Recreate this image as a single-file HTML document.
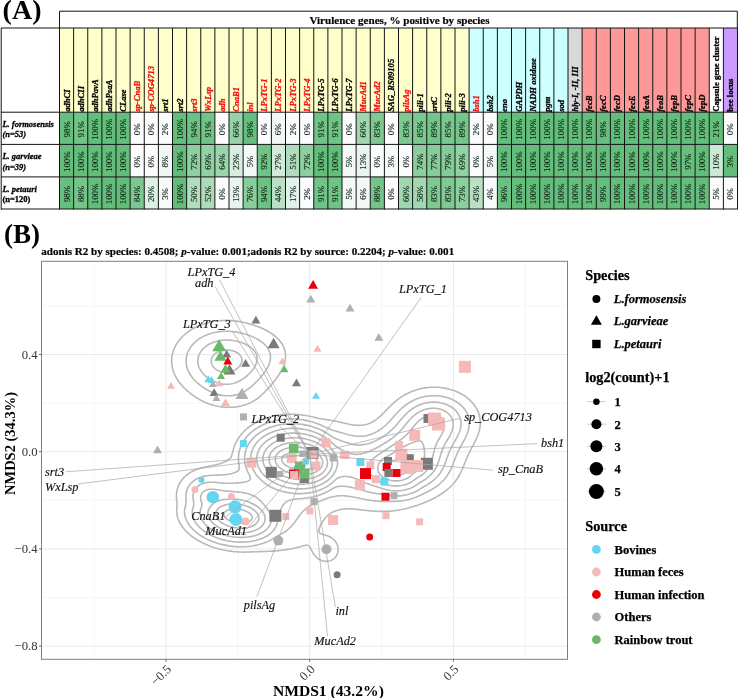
<!DOCTYPE html><html><head><meta charset="utf-8"><style>html,body{margin:0;padding:0;background:#fff;}body{width:738px;height:698px;overflow:hidden;}svg{display:block;will-change:transform;}</style></head><body><svg width="738" height="698" viewBox="0 0 738 698" font-family="Liberation Serif"><text x="2.6" y="18.7" font-size="28" font-weight="bold">(A)</text>
<rect x="59.50" y="28.00" width="14.43" height="84.00" fill="#FFFFCC"/>
<rect x="59.50" y="112.20" width="14.43" height="32.20" fill="#66BF7E"/>
<rect x="59.50" y="144.40" width="14.43" height="32.50" fill="#63BE7B"/>
<rect x="59.50" y="176.90" width="14.43" height="32.10" fill="#66BF7E"/>
<rect x="73.62" y="28.00" width="14.43" height="84.00" fill="#FFFFCC"/>
<rect x="73.62" y="112.20" width="14.43" height="32.20" fill="#71C487"/>
<rect x="73.62" y="144.40" width="14.43" height="32.50" fill="#63BE7B"/>
<rect x="73.62" y="176.90" width="14.43" height="32.10" fill="#75C58B"/>
<rect x="87.75" y="28.00" width="14.43" height="84.00" fill="#FFFFCC"/>
<rect x="87.75" y="112.20" width="14.43" height="32.20" fill="#63BE7B"/>
<rect x="87.75" y="144.40" width="14.43" height="32.50" fill="#63BE7B"/>
<rect x="87.75" y="176.90" width="14.43" height="32.10" fill="#63BE7B"/>
<rect x="101.88" y="28.00" width="14.43" height="84.00" fill="#FFFFCC"/>
<rect x="101.88" y="112.20" width="14.43" height="32.20" fill="#63BE7B"/>
<rect x="101.88" y="144.40" width="14.43" height="32.50" fill="#63BE7B"/>
<rect x="101.88" y="176.90" width="14.43" height="32.10" fill="#63BE7B"/>
<rect x="116.00" y="28.00" width="14.43" height="84.00" fill="#FFFFCC"/>
<rect x="116.00" y="112.20" width="14.43" height="32.20" fill="#63BE7B"/>
<rect x="116.00" y="144.40" width="14.43" height="32.50" fill="#63BE7B"/>
<rect x="116.00" y="176.90" width="14.43" height="32.10" fill="#63BE7B"/>
<rect x="130.12" y="28.00" width="14.43" height="84.00" fill="#FFFFCC"/>
<rect x="130.12" y="112.20" width="14.43" height="32.20" fill="#FCFCFF"/>
<rect x="130.12" y="144.40" width="14.43" height="32.50" fill="#FCFCFF"/>
<rect x="130.12" y="176.90" width="14.43" height="32.10" fill="#7BC890"/>
<rect x="144.25" y="28.00" width="14.43" height="84.00" fill="#FFFFCC"/>
<rect x="144.25" y="112.20" width="14.43" height="32.20" fill="#FCFCFF"/>
<rect x="144.25" y="144.40" width="14.43" height="32.50" fill="#FCFCFF"/>
<rect x="144.25" y="176.90" width="14.43" height="32.10" fill="#DDF0E5"/>
<rect x="158.38" y="28.00" width="14.43" height="84.00" fill="#FFFFCC"/>
<rect x="158.38" y="112.20" width="14.43" height="32.20" fill="#F9FBFC"/>
<rect x="158.38" y="144.40" width="14.43" height="32.50" fill="#F0F7F4"/>
<rect x="158.38" y="176.90" width="14.43" height="32.10" fill="#F7FAFB"/>
<rect x="172.50" y="28.00" width="14.43" height="84.00" fill="#FFFFCC"/>
<rect x="172.50" y="112.20" width="14.43" height="32.20" fill="#63BE7B"/>
<rect x="172.50" y="144.40" width="14.43" height="32.50" fill="#63BE7B"/>
<rect x="172.50" y="176.90" width="14.43" height="32.10" fill="#63BE7B"/>
<rect x="186.62" y="28.00" width="14.43" height="84.00" fill="#FFFFCC"/>
<rect x="186.62" y="112.20" width="14.43" height="32.20" fill="#6CC283"/>
<rect x="186.62" y="144.40" width="14.43" height="32.50" fill="#8ECFA0"/>
<rect x="186.62" y="176.90" width="14.43" height="32.10" fill="#B0DDBD"/>
<rect x="200.75" y="28.00" width="14.43" height="84.00" fill="#FFFFCC"/>
<rect x="200.75" y="112.20" width="14.43" height="32.20" fill="#71C487"/>
<rect x="200.75" y="144.40" width="14.43" height="32.50" fill="#92D1A4"/>
<rect x="200.75" y="176.90" width="14.43" height="32.10" fill="#ACDCBA"/>
<rect x="214.88" y="28.00" width="14.43" height="84.00" fill="#FFFFCC"/>
<rect x="214.88" y="112.20" width="14.43" height="32.20" fill="#FCFCFF"/>
<rect x="214.88" y="144.40" width="14.43" height="32.50" fill="#9AD4AB"/>
<rect x="214.88" y="176.90" width="14.43" height="32.10" fill="#FCFCFF"/>
<rect x="229.00" y="28.00" width="14.43" height="84.00" fill="#FFFFCC"/>
<rect x="229.00" y="112.20" width="14.43" height="32.20" fill="#97D3A8"/>
<rect x="229.00" y="144.40" width="14.43" height="32.50" fill="#D9EEE1"/>
<rect x="229.00" y="176.90" width="14.43" height="32.10" fill="#E8F4EE"/>
<rect x="243.12" y="28.00" width="14.43" height="84.00" fill="#FFFFCC"/>
<rect x="243.12" y="112.20" width="14.43" height="32.20" fill="#66BF7E"/>
<rect x="243.12" y="144.40" width="14.43" height="32.50" fill="#F4F9F8"/>
<rect x="243.12" y="176.90" width="14.43" height="32.10" fill="#88CD9B"/>
<rect x="257.25" y="28.00" width="14.43" height="84.00" fill="#FFFFCC"/>
<rect x="257.25" y="112.20" width="14.43" height="32.20" fill="#FCFCFF"/>
<rect x="257.25" y="144.40" width="14.43" height="32.50" fill="#6FC386"/>
<rect x="257.25" y="176.90" width="14.43" height="32.10" fill="#6CC283"/>
<rect x="271.38" y="28.00" width="14.43" height="84.00" fill="#FFFFCC"/>
<rect x="271.38" y="112.20" width="14.43" height="32.20" fill="#F3F8F7"/>
<rect x="271.38" y="144.40" width="14.43" height="32.50" fill="#D3EBDB"/>
<rect x="271.38" y="176.90" width="14.43" height="32.10" fill="#B9E1C5"/>
<rect x="285.50" y="28.00" width="14.43" height="84.00" fill="#FFFFCC"/>
<rect x="285.50" y="112.20" width="14.43" height="32.20" fill="#F9FBFC"/>
<rect x="285.50" y="144.40" width="14.43" height="32.50" fill="#AEDCBC"/>
<rect x="285.50" y="176.90" width="14.43" height="32.10" fill="#E2F1E9"/>
<rect x="299.62" y="28.00" width="14.43" height="84.00" fill="#FFFFCC"/>
<rect x="299.62" y="112.20" width="14.43" height="32.20" fill="#FCFCFF"/>
<rect x="299.62" y="144.40" width="14.43" height="32.50" fill="#8ECFA0"/>
<rect x="299.62" y="176.90" width="14.43" height="32.10" fill="#F9FBFC"/>
<rect x="313.75" y="28.00" width="14.43" height="84.00" fill="#FFFFCC"/>
<rect x="313.75" y="112.20" width="14.43" height="32.20" fill="#71C487"/>
<rect x="313.75" y="144.40" width="14.43" height="32.50" fill="#63BE7B"/>
<rect x="313.75" y="176.90" width="14.43" height="32.10" fill="#71C487"/>
<rect x="327.88" y="28.00" width="14.43" height="84.00" fill="#FFFFCC"/>
<rect x="327.88" y="112.20" width="14.43" height="32.20" fill="#71C487"/>
<rect x="327.88" y="144.40" width="14.43" height="32.50" fill="#63BE7B"/>
<rect x="327.88" y="176.90" width="14.43" height="32.10" fill="#71C487"/>
<rect x="342.00" y="28.00" width="14.43" height="84.00" fill="#FFFFCC"/>
<rect x="342.00" y="112.20" width="14.43" height="32.20" fill="#FCFCFF"/>
<rect x="342.00" y="144.40" width="14.43" height="32.50" fill="#F4F9F8"/>
<rect x="342.00" y="176.90" width="14.43" height="32.10" fill="#F4F9F8"/>
<rect x="356.12" y="28.00" width="14.43" height="84.00" fill="#FFFFCC"/>
<rect x="356.12" y="112.20" width="14.43" height="32.20" fill="#A0D7B0"/>
<rect x="356.12" y="144.40" width="14.43" height="32.50" fill="#E8F4EE"/>
<rect x="356.12" y="176.90" width="14.43" height="32.10" fill="#F3F8F7"/>
<rect x="370.25" y="28.00" width="14.43" height="84.00" fill="#FFFFCC"/>
<rect x="370.25" y="112.20" width="14.43" height="32.20" fill="#7DC991"/>
<rect x="370.25" y="144.40" width="14.43" height="32.50" fill="#FCFCFF"/>
<rect x="370.25" y="176.90" width="14.43" height="32.10" fill="#75C58B"/>
<rect x="384.38" y="28.00" width="14.43" height="84.00" fill="#FFFFCC"/>
<rect x="384.38" y="112.20" width="14.43" height="32.20" fill="#FCFCFF"/>
<rect x="384.38" y="144.40" width="14.43" height="32.50" fill="#F7FAFB"/>
<rect x="384.38" y="176.90" width="14.43" height="32.10" fill="#FCFCFF"/>
<rect x="398.50" y="28.00" width="14.43" height="84.00" fill="#FFFFCC"/>
<rect x="398.50" y="112.20" width="14.43" height="32.20" fill="#7DC991"/>
<rect x="398.50" y="144.40" width="14.43" height="32.50" fill="#FCFCFF"/>
<rect x="398.50" y="176.90" width="14.43" height="32.10" fill="#A0D7B0"/>
<rect x="412.62" y="28.00" width="14.43" height="84.00" fill="#FFFFCC"/>
<rect x="412.62" y="112.20" width="14.43" height="32.20" fill="#7AC78F"/>
<rect x="412.62" y="144.40" width="14.43" height="32.50" fill="#8BCE9D"/>
<rect x="412.62" y="176.90" width="14.43" height="32.10" fill="#A3D8B2"/>
<rect x="426.75" y="28.00" width="14.43" height="84.00" fill="#FFFFCC"/>
<rect x="426.75" y="112.20" width="14.43" height="32.20" fill="#74C58A"/>
<rect x="426.75" y="144.40" width="14.43" height="32.50" fill="#86CC99"/>
<rect x="426.75" y="176.90" width="14.43" height="32.10" fill="#7DC991"/>
<rect x="440.88" y="28.00" width="14.43" height="84.00" fill="#FFFFCC"/>
<rect x="440.88" y="112.20" width="14.43" height="32.20" fill="#7AC78F"/>
<rect x="440.88" y="144.40" width="14.43" height="32.50" fill="#83CB97"/>
<rect x="440.88" y="176.90" width="14.43" height="32.10" fill="#7DC991"/>
<rect x="455.00" y="28.00" width="14.43" height="84.00" fill="#FFFFCC"/>
<rect x="455.00" y="112.20" width="14.43" height="32.20" fill="#74C58A"/>
<rect x="455.00" y="144.40" width="14.43" height="32.50" fill="#92D1A4"/>
<rect x="455.00" y="176.90" width="14.43" height="32.10" fill="#8CCF9F"/>
<rect x="469.12" y="28.00" width="14.43" height="84.00" fill="#CCFFFF"/>
<rect x="469.12" y="112.20" width="14.43" height="32.20" fill="#F9FBFC"/>
<rect x="469.12" y="144.40" width="14.43" height="32.50" fill="#FCFCFF"/>
<rect x="469.12" y="176.90" width="14.43" height="32.10" fill="#BAE1C6"/>
<rect x="483.25" y="28.00" width="14.43" height="84.00" fill="#CCFFFF"/>
<rect x="483.25" y="112.20" width="14.43" height="32.20" fill="#FCFCFF"/>
<rect x="483.25" y="144.40" width="14.43" height="32.50" fill="#F4F9F8"/>
<rect x="483.25" y="176.90" width="14.43" height="32.10" fill="#F6FAFA"/>
<rect x="497.38" y="28.00" width="14.43" height="84.00" fill="#CCFFFF"/>
<rect x="497.38" y="112.20" width="14.43" height="32.20" fill="#63BE7B"/>
<rect x="497.38" y="144.40" width="14.43" height="32.50" fill="#63BE7B"/>
<rect x="497.38" y="176.90" width="14.43" height="32.10" fill="#69C080"/>
<rect x="511.50" y="28.00" width="14.43" height="84.00" fill="#CCFFFF"/>
<rect x="511.50" y="112.20" width="14.43" height="32.20" fill="#63BE7B"/>
<rect x="511.50" y="144.40" width="14.43" height="32.50" fill="#63BE7B"/>
<rect x="511.50" y="176.90" width="14.43" height="32.10" fill="#63BE7B"/>
<rect x="525.62" y="28.00" width="14.43" height="84.00" fill="#CCFFFF"/>
<rect x="525.62" y="112.20" width="14.43" height="32.20" fill="#63BE7B"/>
<rect x="525.62" y="144.40" width="14.43" height="32.50" fill="#63BE7B"/>
<rect x="525.62" y="176.90" width="14.43" height="32.10" fill="#63BE7B"/>
<rect x="539.75" y="28.00" width="14.43" height="84.00" fill="#CCFFFF"/>
<rect x="539.75" y="112.20" width="14.43" height="32.20" fill="#63BE7B"/>
<rect x="539.75" y="144.40" width="14.43" height="32.50" fill="#63BE7B"/>
<rect x="539.75" y="176.90" width="14.43" height="32.10" fill="#63BE7B"/>
<rect x="553.88" y="28.00" width="14.43" height="84.00" fill="#CCFFFF"/>
<rect x="553.88" y="112.20" width="14.43" height="32.20" fill="#63BE7B"/>
<rect x="553.88" y="144.40" width="14.43" height="32.50" fill="#63BE7B"/>
<rect x="553.88" y="176.90" width="14.43" height="32.10" fill="#63BE7B"/>
<rect x="568.00" y="28.00" width="14.43" height="84.00" fill="#D9D9D9"/>
<rect x="568.00" y="112.20" width="14.43" height="32.20" fill="#63BE7B"/>
<rect x="568.00" y="144.40" width="14.43" height="32.50" fill="#63BE7B"/>
<rect x="568.00" y="176.90" width="14.43" height="32.10" fill="#63BE7B"/>
<rect x="582.12" y="28.00" width="14.43" height="84.00" fill="#FF9999"/>
<rect x="582.12" y="112.20" width="14.43" height="32.20" fill="#63BE7B"/>
<rect x="582.12" y="144.40" width="14.43" height="32.50" fill="#63BE7B"/>
<rect x="582.12" y="176.90" width="14.43" height="32.10" fill="#63BE7B"/>
<rect x="596.25" y="28.00" width="14.43" height="84.00" fill="#FF9999"/>
<rect x="596.25" y="112.20" width="14.43" height="32.20" fill="#66BF7E"/>
<rect x="596.25" y="144.40" width="14.43" height="32.50" fill="#63BE7B"/>
<rect x="596.25" y="176.90" width="14.43" height="32.10" fill="#65BF7C"/>
<rect x="610.38" y="28.00" width="14.43" height="84.00" fill="#FF9999"/>
<rect x="610.38" y="112.20" width="14.43" height="32.20" fill="#63BE7B"/>
<rect x="610.38" y="144.40" width="14.43" height="32.50" fill="#63BE7B"/>
<rect x="610.38" y="176.90" width="14.43" height="32.10" fill="#63BE7B"/>
<rect x="624.50" y="28.00" width="14.43" height="84.00" fill="#FF9999"/>
<rect x="624.50" y="112.20" width="14.43" height="32.20" fill="#63BE7B"/>
<rect x="624.50" y="144.40" width="14.43" height="32.50" fill="#63BE7B"/>
<rect x="624.50" y="176.90" width="14.43" height="32.10" fill="#63BE7B"/>
<rect x="638.62" y="28.00" width="14.43" height="84.00" fill="#FF9999"/>
<rect x="638.62" y="112.20" width="14.43" height="32.20" fill="#63BE7B"/>
<rect x="638.62" y="144.40" width="14.43" height="32.50" fill="#63BE7B"/>
<rect x="638.62" y="176.90" width="14.43" height="32.10" fill="#63BE7B"/>
<rect x="652.75" y="28.00" width="14.43" height="84.00" fill="#FF9999"/>
<rect x="652.75" y="112.20" width="14.43" height="32.20" fill="#63BE7B"/>
<rect x="652.75" y="144.40" width="14.43" height="32.50" fill="#63BE7B"/>
<rect x="652.75" y="176.90" width="14.43" height="32.10" fill="#63BE7B"/>
<rect x="666.88" y="28.00" width="14.43" height="84.00" fill="#FF9999"/>
<rect x="666.88" y="112.20" width="14.43" height="32.20" fill="#63BE7B"/>
<rect x="666.88" y="144.40" width="14.43" height="32.50" fill="#63BE7B"/>
<rect x="666.88" y="176.90" width="14.43" height="32.10" fill="#63BE7B"/>
<rect x="681.00" y="28.00" width="14.43" height="84.00" fill="#FF9999"/>
<rect x="681.00" y="112.20" width="14.43" height="32.20" fill="#63BE7B"/>
<rect x="681.00" y="144.40" width="14.43" height="32.50" fill="#68C07F"/>
<rect x="681.00" y="176.90" width="14.43" height="32.10" fill="#63BE7B"/>
<rect x="695.12" y="28.00" width="14.43" height="84.00" fill="#FF9999"/>
<rect x="695.12" y="112.20" width="14.43" height="32.20" fill="#63BE7B"/>
<rect x="695.12" y="144.40" width="14.43" height="32.50" fill="#63BE7B"/>
<rect x="695.12" y="176.90" width="14.43" height="32.10" fill="#63BE7B"/>
<rect x="709.25" y="28.00" width="14.43" height="84.00" fill="#FFFFFF"/>
<rect x="709.25" y="112.20" width="14.43" height="32.20" fill="#63BE7B"/>
<rect x="709.25" y="144.40" width="14.43" height="32.50" fill="#CCE9D6"/>
<rect x="709.25" y="176.90" width="14.43" height="32.10" fill="#FCFCFF"/>
<rect x="723.38" y="28.00" width="14.43" height="84.00" fill="#CC99FF"/>
<rect x="723.38" y="112.20" width="14.43" height="32.20" fill="#FCFCFF"/>
<rect x="723.38" y="144.40" width="14.43" height="32.50" fill="#63BE7B"/>
<rect x="723.38" y="176.90" width="14.43" height="32.10" fill="#FCFCFF"/>
<g stroke="#141414" stroke-width="1" fill="none">
<path d="M59.5,28 V11.2 H737.3 V28"/>
<line x1="1" y1="28" x2="737.5" y2="28"/>
<line x1="1.2" y1="28" x2="1.2" y2="209.5"/>
<line x1="1" y1="112.2" x2="737.5" y2="112.2"/>
<line x1="1" y1="144.4" x2="737.5" y2="144.4"/>
<line x1="1" y1="176.9" x2="737.5" y2="176.9"/>
<line x1="1" y1="209.0" x2="737.5" y2="209.0"/>
<line x1="59.50" y1="28" x2="59.50" y2="209.5"/>
<line x1="73.62" y1="28" x2="73.62" y2="209.5"/>
<line x1="87.75" y1="28" x2="87.75" y2="209.5"/>
<line x1="101.88" y1="28" x2="101.88" y2="209.5"/>
<line x1="116.00" y1="28" x2="116.00" y2="209.5"/>
<line x1="130.12" y1="28" x2="130.12" y2="209.5"/>
<line x1="144.25" y1="28" x2="144.25" y2="209.5"/>
<line x1="158.38" y1="28" x2="158.38" y2="209.5"/>
<line x1="172.50" y1="28" x2="172.50" y2="209.5"/>
<line x1="186.62" y1="28" x2="186.62" y2="209.5"/>
<line x1="200.75" y1="28" x2="200.75" y2="209.5"/>
<line x1="214.88" y1="28" x2="214.88" y2="209.5"/>
<line x1="229.00" y1="28" x2="229.00" y2="209.5"/>
<line x1="243.12" y1="28" x2="243.12" y2="209.5"/>
<line x1="257.25" y1="28" x2="257.25" y2="209.5"/>
<line x1="271.38" y1="28" x2="271.38" y2="209.5"/>
<line x1="285.50" y1="28" x2="285.50" y2="209.5"/>
<line x1="299.62" y1="28" x2="299.62" y2="209.5"/>
<line x1="313.75" y1="28" x2="313.75" y2="209.5"/>
<line x1="327.88" y1="28" x2="327.88" y2="209.5"/>
<line x1="342.00" y1="28" x2="342.00" y2="209.5"/>
<line x1="356.12" y1="28" x2="356.12" y2="209.5"/>
<line x1="370.25" y1="28" x2="370.25" y2="209.5"/>
<line x1="384.38" y1="28" x2="384.38" y2="209.5"/>
<line x1="398.50" y1="28" x2="398.50" y2="209.5"/>
<line x1="412.62" y1="28" x2="412.62" y2="209.5"/>
<line x1="426.75" y1="28" x2="426.75" y2="209.5"/>
<line x1="440.88" y1="28" x2="440.88" y2="209.5"/>
<line x1="455.00" y1="28" x2="455.00" y2="209.5"/>
<line x1="469.12" y1="28" x2="469.12" y2="209.5"/>
<line x1="483.25" y1="28" x2="483.25" y2="209.5"/>
<line x1="497.38" y1="28" x2="497.38" y2="209.5"/>
<line x1="511.50" y1="28" x2="511.50" y2="209.5"/>
<line x1="525.62" y1="28" x2="525.62" y2="209.5"/>
<line x1="539.75" y1="28" x2="539.75" y2="209.5"/>
<line x1="553.88" y1="28" x2="553.88" y2="209.5"/>
<line x1="568.00" y1="28" x2="568.00" y2="209.5"/>
<line x1="582.12" y1="28" x2="582.12" y2="209.5"/>
<line x1="596.25" y1="28" x2="596.25" y2="209.5"/>
<line x1="610.38" y1="28" x2="610.38" y2="209.5"/>
<line x1="624.50" y1="28" x2="624.50" y2="209.5"/>
<line x1="638.62" y1="28" x2="638.62" y2="209.5"/>
<line x1="652.75" y1="28" x2="652.75" y2="209.5"/>
<line x1="666.88" y1="28" x2="666.88" y2="209.5"/>
<line x1="681.00" y1="28" x2="681.00" y2="209.5"/>
<line x1="695.12" y1="28" x2="695.12" y2="209.5"/>
<line x1="709.25" y1="28" x2="709.25" y2="209.5"/>
<line x1="723.38" y1="28" x2="723.38" y2="209.5"/>
<line x1="737.50" y1="28" x2="737.50" y2="209.5"/>
</g>
<text x="399.5" y="24.3" font-size="11.1" font-weight="bold" text-anchor="middle" stroke="#000" stroke-width="0.2">Virulence genes, % positive by species</text>
<text transform="translate(69.56,111.8) rotate(-90)" font-size="8.6" style="font-weight:bold;font-style:italic" fill="#000" stroke="#000" stroke-width="0.32">adhCI</text>
<text transform="translate(69.56,129.30) rotate(-90)" font-size="8.9" text-anchor="middle" fill="#0d1f12" stroke="#0d1f12" stroke-width="0.12">98%</text>
<text transform="translate(69.56,161.65) rotate(-90)" font-size="8.9" text-anchor="middle" fill="#0d1f12" stroke="#0d1f12" stroke-width="0.12">100%</text>
<text transform="translate(69.56,193.95) rotate(-90)" font-size="8.9" text-anchor="middle" fill="#0d1f12" stroke="#0d1f12" stroke-width="0.12">98%</text>
<text transform="translate(83.69,111.8) rotate(-90)" font-size="8.6" style="font-weight:bold;font-style:italic" fill="#000" stroke="#000" stroke-width="0.32">adhCII</text>
<text transform="translate(83.69,129.30) rotate(-90)" font-size="8.9" text-anchor="middle" fill="#0d1f12" stroke="#0d1f12" stroke-width="0.12">91%</text>
<text transform="translate(83.69,161.65) rotate(-90)" font-size="8.9" text-anchor="middle" fill="#0d1f12" stroke="#0d1f12" stroke-width="0.12">100%</text>
<text transform="translate(83.69,193.95) rotate(-90)" font-size="8.9" text-anchor="middle" fill="#0d1f12" stroke="#0d1f12" stroke-width="0.12">88%</text>
<text transform="translate(97.81,111.8) rotate(-90)" font-size="8.6" style="font-weight:bold;font-style:italic" fill="#000" stroke="#000" stroke-width="0.32">adhPavA</text>
<text transform="translate(97.81,129.30) rotate(-90)" font-size="8.9" text-anchor="middle" fill="#0d1f12" stroke="#0d1f12" stroke-width="0.12">100%</text>
<text transform="translate(97.81,161.65) rotate(-90)" font-size="8.9" text-anchor="middle" fill="#0d1f12" stroke="#0d1f12" stroke-width="0.12">100%</text>
<text transform="translate(97.81,193.95) rotate(-90)" font-size="8.9" text-anchor="middle" fill="#0d1f12" stroke="#0d1f12" stroke-width="0.12">100%</text>
<text transform="translate(111.94,111.8) rotate(-90)" font-size="8.6" style="font-weight:bold;font-style:italic" fill="#000" stroke="#000" stroke-width="0.32">adhPsaA</text>
<text transform="translate(111.94,129.30) rotate(-90)" font-size="8.9" text-anchor="middle" fill="#0d1f12" stroke="#0d1f12" stroke-width="0.12">100%</text>
<text transform="translate(111.94,161.65) rotate(-90)" font-size="8.9" text-anchor="middle" fill="#0d1f12" stroke="#0d1f12" stroke-width="0.12">100%</text>
<text transform="translate(111.94,193.95) rotate(-90)" font-size="8.9" text-anchor="middle" fill="#0d1f12" stroke="#0d1f12" stroke-width="0.12">100%</text>
<text transform="translate(126.06,111.8) rotate(-90)" font-size="8.6" style="font-weight:bold;font-style:italic" fill="#000" stroke="#000" stroke-width="0.32">CLase</text>
<text transform="translate(126.06,129.30) rotate(-90)" font-size="8.9" text-anchor="middle" fill="#0d1f12" stroke="#0d1f12" stroke-width="0.12">100%</text>
<text transform="translate(126.06,161.65) rotate(-90)" font-size="8.9" text-anchor="middle" fill="#0d1f12" stroke="#0d1f12" stroke-width="0.12">100%</text>
<text transform="translate(126.06,193.95) rotate(-90)" font-size="8.9" text-anchor="middle" fill="#0d1f12" stroke="#0d1f12" stroke-width="0.12">100%</text>
<text transform="translate(140.19,111.8) rotate(-90)" font-size="8.6" style="font-weight:bold;font-style:italic" fill="#EE1111" stroke="#EE1111" stroke-width="0.32">sp-CnaB</text>
<text transform="translate(140.19,129.30) rotate(-90)" font-size="8.9" text-anchor="middle" fill="#0d1f12" stroke="#0d1f12" stroke-width="0.12">0%</text>
<text transform="translate(140.19,161.65) rotate(-90)" font-size="8.9" text-anchor="middle" fill="#0d1f12" stroke="#0d1f12" stroke-width="0.12">0%</text>
<text transform="translate(140.19,193.95) rotate(-90)" font-size="8.9" text-anchor="middle" fill="#0d1f12" stroke="#0d1f12" stroke-width="0.12">84%</text>
<text transform="translate(154.31,111.8) rotate(-90)" font-size="8.6" style="font-weight:bold;font-style:italic" fill="#EE1111" stroke="#EE1111" stroke-width="0.32">sp-COG4713</text>
<text transform="translate(154.31,129.30) rotate(-90)" font-size="8.9" text-anchor="middle" fill="#0d1f12" stroke="#0d1f12" stroke-width="0.12">0%</text>
<text transform="translate(154.31,161.65) rotate(-90)" font-size="8.9" text-anchor="middle" fill="#0d1f12" stroke="#0d1f12" stroke-width="0.12">0%</text>
<text transform="translate(154.31,193.95) rotate(-90)" font-size="8.9" text-anchor="middle" fill="#0d1f12" stroke="#0d1f12" stroke-width="0.12">20%</text>
<text transform="translate(168.44,111.8) rotate(-90)" font-size="8.6" style="font-weight:bold;font-style:italic" fill="#000" stroke="#000" stroke-width="0.32">srt1</text>
<text transform="translate(168.44,129.30) rotate(-90)" font-size="8.9" text-anchor="middle" fill="#0d1f12" stroke="#0d1f12" stroke-width="0.12">2%</text>
<text transform="translate(168.44,161.65) rotate(-90)" font-size="8.9" text-anchor="middle" fill="#0d1f12" stroke="#0d1f12" stroke-width="0.12">8%</text>
<text transform="translate(168.44,193.95) rotate(-90)" font-size="8.9" text-anchor="middle" fill="#0d1f12" stroke="#0d1f12" stroke-width="0.12">3%</text>
<text transform="translate(182.56,111.8) rotate(-90)" font-size="8.6" style="font-weight:bold;font-style:italic" fill="#000" stroke="#000" stroke-width="0.32">srt2</text>
<text transform="translate(182.56,129.30) rotate(-90)" font-size="8.9" text-anchor="middle" fill="#0d1f12" stroke="#0d1f12" stroke-width="0.12">100%</text>
<text transform="translate(182.56,161.65) rotate(-90)" font-size="8.9" text-anchor="middle" fill="#0d1f12" stroke="#0d1f12" stroke-width="0.12">100%</text>
<text transform="translate(182.56,193.95) rotate(-90)" font-size="8.9" text-anchor="middle" fill="#0d1f12" stroke="#0d1f12" stroke-width="0.12">100%</text>
<text transform="translate(196.69,111.8) rotate(-90)" font-size="8.6" style="font-weight:bold;font-style:italic" fill="#EE1111" stroke="#EE1111" stroke-width="0.32">srt3</text>
<text transform="translate(196.69,129.30) rotate(-90)" font-size="8.9" text-anchor="middle" fill="#0d1f12" stroke="#0d1f12" stroke-width="0.12">94%</text>
<text transform="translate(196.69,161.65) rotate(-90)" font-size="8.9" text-anchor="middle" fill="#0d1f12" stroke="#0d1f12" stroke-width="0.12">72%</text>
<text transform="translate(196.69,193.95) rotate(-90)" font-size="8.9" text-anchor="middle" fill="#0d1f12" stroke="#0d1f12" stroke-width="0.12">50%</text>
<text transform="translate(210.81,111.8) rotate(-90)" font-size="8.6" style="font-weight:bold;font-style:italic" fill="#EE1111" stroke="#EE1111" stroke-width="0.32">WxLsp</text>
<text transform="translate(210.81,129.30) rotate(-90)" font-size="8.9" text-anchor="middle" fill="#0d1f12" stroke="#0d1f12" stroke-width="0.12">91%</text>
<text transform="translate(210.81,161.65) rotate(-90)" font-size="8.9" text-anchor="middle" fill="#0d1f12" stroke="#0d1f12" stroke-width="0.12">69%</text>
<text transform="translate(210.81,193.95) rotate(-90)" font-size="8.9" text-anchor="middle" fill="#0d1f12" stroke="#0d1f12" stroke-width="0.12">52%</text>
<text transform="translate(224.94,111.8) rotate(-90)" font-size="8.6" style="font-weight:bold;font-style:italic" fill="#EE1111" stroke="#EE1111" stroke-width="0.32">adh</text>
<text transform="translate(224.94,129.30) rotate(-90)" font-size="8.9" text-anchor="middle" fill="#0d1f12" stroke="#0d1f12" stroke-width="0.12">0%</text>
<text transform="translate(224.94,161.65) rotate(-90)" font-size="8.9" text-anchor="middle" fill="#0d1f12" stroke="#0d1f12" stroke-width="0.12">64%</text>
<text transform="translate(224.94,193.95) rotate(-90)" font-size="8.9" text-anchor="middle" fill="#0d1f12" stroke="#0d1f12" stroke-width="0.12">0%</text>
<text transform="translate(239.06,111.8) rotate(-90)" font-size="8.6" style="font-weight:bold;font-style:italic" fill="#EE1111" stroke="#EE1111" stroke-width="0.32">CnaB1</text>
<text transform="translate(239.06,129.30) rotate(-90)" font-size="8.9" text-anchor="middle" fill="#0d1f12" stroke="#0d1f12" stroke-width="0.12">66%</text>
<text transform="translate(239.06,161.65) rotate(-90)" font-size="8.9" text-anchor="middle" fill="#0d1f12" stroke="#0d1f12" stroke-width="0.12">23%</text>
<text transform="translate(239.06,193.95) rotate(-90)" font-size="8.9" text-anchor="middle" fill="#0d1f12" stroke="#0d1f12" stroke-width="0.12">13%</text>
<text transform="translate(253.19,111.8) rotate(-90)" font-size="8.6" style="font-weight:bold;font-style:italic" fill="#EE1111" stroke="#EE1111" stroke-width="0.32">inl</text>
<text transform="translate(253.19,129.30) rotate(-90)" font-size="8.9" text-anchor="middle" fill="#0d1f12" stroke="#0d1f12" stroke-width="0.12">98%</text>
<text transform="translate(253.19,161.65) rotate(-90)" font-size="8.9" text-anchor="middle" fill="#0d1f12" stroke="#0d1f12" stroke-width="0.12">5%</text>
<text transform="translate(253.19,193.95) rotate(-90)" font-size="8.9" text-anchor="middle" fill="#0d1f12" stroke="#0d1f12" stroke-width="0.12">76%</text>
<text transform="translate(267.31,111.8) rotate(-90)" font-size="8.6" style="font-weight:bold;font-style:italic" fill="#EE1111" stroke="#EE1111" stroke-width="0.32">LPxTG-1</text>
<text transform="translate(267.31,129.30) rotate(-90)" font-size="8.9" text-anchor="middle" fill="#0d1f12" stroke="#0d1f12" stroke-width="0.12">0%</text>
<text transform="translate(267.31,161.65) rotate(-90)" font-size="8.9" text-anchor="middle" fill="#0d1f12" stroke="#0d1f12" stroke-width="0.12">92%</text>
<text transform="translate(267.31,193.95) rotate(-90)" font-size="8.9" text-anchor="middle" fill="#0d1f12" stroke="#0d1f12" stroke-width="0.12">94%</text>
<text transform="translate(281.44,111.8) rotate(-90)" font-size="8.6" style="font-weight:bold;font-style:italic" fill="#EE1111" stroke="#EE1111" stroke-width="0.32">LPxTG-2</text>
<text transform="translate(281.44,129.30) rotate(-90)" font-size="8.9" text-anchor="middle" fill="#0d1f12" stroke="#0d1f12" stroke-width="0.12">6%</text>
<text transform="translate(281.44,161.65) rotate(-90)" font-size="8.9" text-anchor="middle" fill="#0d1f12" stroke="#0d1f12" stroke-width="0.12">27%</text>
<text transform="translate(281.44,193.95) rotate(-90)" font-size="8.9" text-anchor="middle" fill="#0d1f12" stroke="#0d1f12" stroke-width="0.12">44%</text>
<text transform="translate(295.56,111.8) rotate(-90)" font-size="8.6" style="font-weight:bold;font-style:italic" fill="#EE1111" stroke="#EE1111" stroke-width="0.32">LPxTG-3</text>
<text transform="translate(295.56,129.30) rotate(-90)" font-size="8.9" text-anchor="middle" fill="#0d1f12" stroke="#0d1f12" stroke-width="0.12">2%</text>
<text transform="translate(295.56,161.65) rotate(-90)" font-size="8.9" text-anchor="middle" fill="#0d1f12" stroke="#0d1f12" stroke-width="0.12">51%</text>
<text transform="translate(295.56,193.95) rotate(-90)" font-size="8.9" text-anchor="middle" fill="#0d1f12" stroke="#0d1f12" stroke-width="0.12">17%</text>
<text transform="translate(309.69,111.8) rotate(-90)" font-size="8.6" style="font-weight:bold;font-style:italic" fill="#EE1111" stroke="#EE1111" stroke-width="0.32">LPxTG-4</text>
<text transform="translate(309.69,129.30) rotate(-90)" font-size="8.9" text-anchor="middle" fill="#0d1f12" stroke="#0d1f12" stroke-width="0.12">0%</text>
<text transform="translate(309.69,161.65) rotate(-90)" font-size="8.9" text-anchor="middle" fill="#0d1f12" stroke="#0d1f12" stroke-width="0.12">72%</text>
<text transform="translate(309.69,193.95) rotate(-90)" font-size="8.9" text-anchor="middle" fill="#0d1f12" stroke="#0d1f12" stroke-width="0.12">2%</text>
<text transform="translate(323.81,111.8) rotate(-90)" font-size="8.6" style="font-weight:bold;font-style:italic" fill="#000" stroke="#000" stroke-width="0.32">LPxTG-5</text>
<text transform="translate(323.81,129.30) rotate(-90)" font-size="8.9" text-anchor="middle" fill="#0d1f12" stroke="#0d1f12" stroke-width="0.12">91%</text>
<text transform="translate(323.81,161.65) rotate(-90)" font-size="8.9" text-anchor="middle" fill="#0d1f12" stroke="#0d1f12" stroke-width="0.12">100%</text>
<text transform="translate(323.81,193.95) rotate(-90)" font-size="8.9" text-anchor="middle" fill="#0d1f12" stroke="#0d1f12" stroke-width="0.12">91%</text>
<text transform="translate(337.94,111.8) rotate(-90)" font-size="8.6" style="font-weight:bold;font-style:italic" fill="#000" stroke="#000" stroke-width="0.32">LPxTG-6</text>
<text transform="translate(337.94,129.30) rotate(-90)" font-size="8.9" text-anchor="middle" fill="#0d1f12" stroke="#0d1f12" stroke-width="0.12">91%</text>
<text transform="translate(337.94,161.65) rotate(-90)" font-size="8.9" text-anchor="middle" fill="#0d1f12" stroke="#0d1f12" stroke-width="0.12">100%</text>
<text transform="translate(337.94,193.95) rotate(-90)" font-size="8.9" text-anchor="middle" fill="#0d1f12" stroke="#0d1f12" stroke-width="0.12">91%</text>
<text transform="translate(352.06,111.8) rotate(-90)" font-size="8.6" style="font-weight:bold;font-style:italic" fill="#000" stroke="#000" stroke-width="0.32">LPxTG-7</text>
<text transform="translate(352.06,129.30) rotate(-90)" font-size="8.9" text-anchor="middle" fill="#0d1f12" stroke="#0d1f12" stroke-width="0.12">0%</text>
<text transform="translate(352.06,161.65) rotate(-90)" font-size="8.9" text-anchor="middle" fill="#0d1f12" stroke="#0d1f12" stroke-width="0.12">5%</text>
<text transform="translate(352.06,193.95) rotate(-90)" font-size="8.9" text-anchor="middle" fill="#0d1f12" stroke="#0d1f12" stroke-width="0.12">5%</text>
<text transform="translate(366.19,111.8) rotate(-90)" font-size="8.6" style="font-weight:bold;font-style:italic" fill="#EE1111" stroke="#EE1111" stroke-width="0.32">MucAd1</text>
<text transform="translate(366.19,129.30) rotate(-90)" font-size="8.9" text-anchor="middle" fill="#0d1f12" stroke="#0d1f12" stroke-width="0.12">60%</text>
<text transform="translate(366.19,161.65) rotate(-90)" font-size="8.9" text-anchor="middle" fill="#0d1f12" stroke="#0d1f12" stroke-width="0.12">13%</text>
<text transform="translate(366.19,193.95) rotate(-90)" font-size="8.9" text-anchor="middle" fill="#0d1f12" stroke="#0d1f12" stroke-width="0.12">6%</text>
<text transform="translate(380.31,111.8) rotate(-90)" font-size="8.6" style="font-weight:bold;font-style:italic" fill="#EE1111" stroke="#EE1111" stroke-width="0.32">MucAd2</text>
<text transform="translate(380.31,129.30) rotate(-90)" font-size="8.9" text-anchor="middle" fill="#0d1f12" stroke="#0d1f12" stroke-width="0.12">83%</text>
<text transform="translate(380.31,161.65) rotate(-90)" font-size="8.9" text-anchor="middle" fill="#0d1f12" stroke="#0d1f12" stroke-width="0.12">0%</text>
<text transform="translate(380.31,193.95) rotate(-90)" font-size="8.9" text-anchor="middle" fill="#0d1f12" stroke="#0d1f12" stroke-width="0.12">88%</text>
<text transform="translate(394.44,111.8) rotate(-90)" font-size="8.6" style="font-weight:bold;font-style:italic" fill="#000" stroke="#000" stroke-width="0.32">SAG_RS09105</text>
<text transform="translate(394.44,129.30) rotate(-90)" font-size="8.9" text-anchor="middle" fill="#0d1f12" stroke="#0d1f12" stroke-width="0.12">0%</text>
<text transform="translate(394.44,161.65) rotate(-90)" font-size="8.9" text-anchor="middle" fill="#0d1f12" stroke="#0d1f12" stroke-width="0.12">3%</text>
<text transform="translate(394.44,193.95) rotate(-90)" font-size="8.9" text-anchor="middle" fill="#0d1f12" stroke="#0d1f12" stroke-width="0.12">0%</text>
<text transform="translate(408.56,111.8) rotate(-90)" font-size="8.6" style="font-weight:bold;font-style:italic" fill="#EE1111" stroke="#EE1111" stroke-width="0.32">pilsAg</text>
<text transform="translate(408.56,129.30) rotate(-90)" font-size="8.9" text-anchor="middle" fill="#0d1f12" stroke="#0d1f12" stroke-width="0.12">83%</text>
<text transform="translate(408.56,161.65) rotate(-90)" font-size="8.9" text-anchor="middle" fill="#0d1f12" stroke="#0d1f12" stroke-width="0.12">0%</text>
<text transform="translate(408.56,193.95) rotate(-90)" font-size="8.9" text-anchor="middle" fill="#0d1f12" stroke="#0d1f12" stroke-width="0.12">60%</text>
<text transform="translate(422.69,111.8) rotate(-90)" font-size="8.6" style="font-weight:bold;font-style:italic" fill="#000" stroke="#000" stroke-width="0.32">pili-1</text>
<text transform="translate(422.69,129.30) rotate(-90)" font-size="8.9" text-anchor="middle" fill="#0d1f12" stroke="#0d1f12" stroke-width="0.12">85%</text>
<text transform="translate(422.69,161.65) rotate(-90)" font-size="8.9" text-anchor="middle" fill="#0d1f12" stroke="#0d1f12" stroke-width="0.12">74%</text>
<text transform="translate(422.69,193.95) rotate(-90)" font-size="8.9" text-anchor="middle" fill="#0d1f12" stroke="#0d1f12" stroke-width="0.12">58%</text>
<text transform="translate(436.81,111.8) rotate(-90)" font-size="8.6" style="font-weight:bold;font-style:italic" fill="#000" stroke="#000" stroke-width="0.32">srtC</text>
<text transform="translate(436.81,129.30) rotate(-90)" font-size="8.9" text-anchor="middle" fill="#0d1f12" stroke="#0d1f12" stroke-width="0.12">89%</text>
<text transform="translate(436.81,161.65) rotate(-90)" font-size="8.9" text-anchor="middle" fill="#0d1f12" stroke="#0d1f12" stroke-width="0.12">77%</text>
<text transform="translate(436.81,193.95) rotate(-90)" font-size="8.9" text-anchor="middle" fill="#0d1f12" stroke="#0d1f12" stroke-width="0.12">83%</text>
<text transform="translate(450.94,111.8) rotate(-90)" font-size="8.6" style="font-weight:bold;font-style:italic" fill="#000" stroke="#000" stroke-width="0.32">pili-2</text>
<text transform="translate(450.94,129.30) rotate(-90)" font-size="8.9" text-anchor="middle" fill="#0d1f12" stroke="#0d1f12" stroke-width="0.12">85%</text>
<text transform="translate(450.94,161.65) rotate(-90)" font-size="8.9" text-anchor="middle" fill="#0d1f12" stroke="#0d1f12" stroke-width="0.12">79%</text>
<text transform="translate(450.94,193.95) rotate(-90)" font-size="8.9" text-anchor="middle" fill="#0d1f12" stroke="#0d1f12" stroke-width="0.12">83%</text>
<text transform="translate(465.06,111.8) rotate(-90)" font-size="8.6" style="font-weight:bold;font-style:italic" fill="#000" stroke="#000" stroke-width="0.32">pili-3</text>
<text transform="translate(465.06,129.30) rotate(-90)" font-size="8.9" text-anchor="middle" fill="#0d1f12" stroke="#0d1f12" stroke-width="0.12">89%</text>
<text transform="translate(465.06,161.65) rotate(-90)" font-size="8.9" text-anchor="middle" fill="#0d1f12" stroke="#0d1f12" stroke-width="0.12">69%</text>
<text transform="translate(465.06,193.95) rotate(-90)" font-size="8.9" text-anchor="middle" fill="#0d1f12" stroke="#0d1f12" stroke-width="0.12">73%</text>
<text transform="translate(479.19,111.8) rotate(-90)" font-size="8.6" style="font-weight:bold;font-style:italic" fill="#EE1111" stroke="#EE1111" stroke-width="0.32">bsh1</text>
<text transform="translate(479.19,129.30) rotate(-90)" font-size="8.9" text-anchor="middle" fill="#0d1f12" stroke="#0d1f12" stroke-width="0.12">2%</text>
<text transform="translate(479.19,161.65) rotate(-90)" font-size="8.9" text-anchor="middle" fill="#0d1f12" stroke="#0d1f12" stroke-width="0.12">0%</text>
<text transform="translate(479.19,193.95) rotate(-90)" font-size="8.9" text-anchor="middle" fill="#0d1f12" stroke="#0d1f12" stroke-width="0.12">43%</text>
<text transform="translate(493.31,111.8) rotate(-90)" font-size="8.6" style="font-weight:bold;font-style:italic" fill="#000" stroke="#000" stroke-width="0.32">bsh2</text>
<text transform="translate(493.31,129.30) rotate(-90)" font-size="8.9" text-anchor="middle" fill="#0d1f12" stroke="#0d1f12" stroke-width="0.12">0%</text>
<text transform="translate(493.31,161.65) rotate(-90)" font-size="8.9" text-anchor="middle" fill="#0d1f12" stroke="#0d1f12" stroke-width="0.12">5%</text>
<text transform="translate(493.31,193.95) rotate(-90)" font-size="8.9" text-anchor="middle" fill="#0d1f12" stroke="#0d1f12" stroke-width="0.12">4%</text>
<text transform="translate(507.44,111.8) rotate(-90)" font-size="8.6" style="font-weight:bold;font-style:italic" fill="#000" stroke="#000" stroke-width="0.32">eno</text>
<text transform="translate(507.44,129.30) rotate(-90)" font-size="8.9" text-anchor="middle" fill="#0d1f12" stroke="#0d1f12" stroke-width="0.12">100%</text>
<text transform="translate(507.44,161.65) rotate(-90)" font-size="8.9" text-anchor="middle" fill="#0d1f12" stroke="#0d1f12" stroke-width="0.12">100%</text>
<text transform="translate(507.44,193.95) rotate(-90)" font-size="8.9" text-anchor="middle" fill="#0d1f12" stroke="#0d1f12" stroke-width="0.12">96%</text>
<text transform="translate(521.56,111.8) rotate(-90)" font-size="8.6" style="font-weight:bold;font-style:italic" fill="#000" stroke="#000" stroke-width="0.32">GAPDH</text>
<text transform="translate(521.56,129.30) rotate(-90)" font-size="8.9" text-anchor="middle" fill="#0d1f12" stroke="#0d1f12" stroke-width="0.12">100%</text>
<text transform="translate(521.56,161.65) rotate(-90)" font-size="8.9" text-anchor="middle" fill="#0d1f12" stroke="#0d1f12" stroke-width="0.12">100%</text>
<text transform="translate(521.56,193.95) rotate(-90)" font-size="8.9" text-anchor="middle" fill="#0d1f12" stroke="#0d1f12" stroke-width="0.12">100%</text>
<text transform="translate(535.69,111.8) rotate(-90)" font-size="8.6" style="font-weight:bold;font-style:italic" fill="#000" stroke="#000" stroke-width="0.32">NADH oxidase</text>
<text transform="translate(535.69,129.30) rotate(-90)" font-size="8.9" text-anchor="middle" fill="#0d1f12" stroke="#0d1f12" stroke-width="0.12">100%</text>
<text transform="translate(535.69,161.65) rotate(-90)" font-size="8.9" text-anchor="middle" fill="#0d1f12" stroke="#0d1f12" stroke-width="0.12">100%</text>
<text transform="translate(535.69,193.95) rotate(-90)" font-size="8.9" text-anchor="middle" fill="#0d1f12" stroke="#0d1f12" stroke-width="0.12">100%</text>
<text transform="translate(549.81,111.8) rotate(-90)" font-size="8.6" style="font-weight:bold;font-style:italic" fill="#000" stroke="#000" stroke-width="0.32">pgm</text>
<text transform="translate(549.81,129.30) rotate(-90)" font-size="8.9" text-anchor="middle" fill="#0d1f12" stroke="#0d1f12" stroke-width="0.12">100%</text>
<text transform="translate(549.81,161.65) rotate(-90)" font-size="8.9" text-anchor="middle" fill="#0d1f12" stroke="#0d1f12" stroke-width="0.12">100%</text>
<text transform="translate(549.81,193.95) rotate(-90)" font-size="8.9" text-anchor="middle" fill="#0d1f12" stroke="#0d1f12" stroke-width="0.12">100%</text>
<text transform="translate(563.94,111.8) rotate(-90)" font-size="8.6" style="font-weight:bold;font-style:italic" fill="#000" stroke="#000" stroke-width="0.32">sod</text>
<text transform="translate(563.94,129.30) rotate(-90)" font-size="8.9" text-anchor="middle" fill="#0d1f12" stroke="#0d1f12" stroke-width="0.12">100%</text>
<text transform="translate(563.94,161.65) rotate(-90)" font-size="8.9" text-anchor="middle" fill="#0d1f12" stroke="#0d1f12" stroke-width="0.12">100%</text>
<text transform="translate(563.94,193.95) rotate(-90)" font-size="8.9" text-anchor="middle" fill="#0d1f12" stroke="#0d1f12" stroke-width="0.12">100%</text>
<text transform="translate(578.06,111.8) rotate(-90)" font-size="8.6" style="font-weight:bold;font-style:italic" fill="#000" stroke="#000" stroke-width="0.32">hly-I, -II, III</text>
<text transform="translate(578.06,129.30) rotate(-90)" font-size="8.9" text-anchor="middle" fill="#0d1f12" stroke="#0d1f12" stroke-width="0.12">100%</text>
<text transform="translate(578.06,161.65) rotate(-90)" font-size="8.9" text-anchor="middle" fill="#0d1f12" stroke="#0d1f12" stroke-width="0.12">100%</text>
<text transform="translate(578.06,193.95) rotate(-90)" font-size="8.9" text-anchor="middle" fill="#0d1f12" stroke="#0d1f12" stroke-width="0.12">100%</text>
<text transform="translate(592.19,111.8) rotate(-90)" font-size="8.6" style="font-weight:bold;font-style:italic" fill="#000" stroke="#000" stroke-width="0.32">fecB</text>
<text transform="translate(592.19,129.30) rotate(-90)" font-size="8.9" text-anchor="middle" fill="#0d1f12" stroke="#0d1f12" stroke-width="0.12">100%</text>
<text transform="translate(592.19,161.65) rotate(-90)" font-size="8.9" text-anchor="middle" fill="#0d1f12" stroke="#0d1f12" stroke-width="0.12">100%</text>
<text transform="translate(592.19,193.95) rotate(-90)" font-size="8.9" text-anchor="middle" fill="#0d1f12" stroke="#0d1f12" stroke-width="0.12">100%</text>
<text transform="translate(606.31,111.8) rotate(-90)" font-size="8.6" style="font-weight:bold;font-style:italic" fill="#000" stroke="#000" stroke-width="0.32">fecC</text>
<text transform="translate(606.31,129.30) rotate(-90)" font-size="8.9" text-anchor="middle" fill="#0d1f12" stroke="#0d1f12" stroke-width="0.12">98%</text>
<text transform="translate(606.31,161.65) rotate(-90)" font-size="8.9" text-anchor="middle" fill="#0d1f12" stroke="#0d1f12" stroke-width="0.12">100%</text>
<text transform="translate(606.31,193.95) rotate(-90)" font-size="8.9" text-anchor="middle" fill="#0d1f12" stroke="#0d1f12" stroke-width="0.12">99%</text>
<text transform="translate(620.44,111.8) rotate(-90)" font-size="8.6" style="font-weight:bold;font-style:italic" fill="#000" stroke="#000" stroke-width="0.32">fecD</text>
<text transform="translate(620.44,129.30) rotate(-90)" font-size="8.9" text-anchor="middle" fill="#0d1f12" stroke="#0d1f12" stroke-width="0.12">100%</text>
<text transform="translate(620.44,161.65) rotate(-90)" font-size="8.9" text-anchor="middle" fill="#0d1f12" stroke="#0d1f12" stroke-width="0.12">100%</text>
<text transform="translate(620.44,193.95) rotate(-90)" font-size="8.9" text-anchor="middle" fill="#0d1f12" stroke="#0d1f12" stroke-width="0.12">100%</text>
<text transform="translate(634.56,111.8) rotate(-90)" font-size="8.6" style="font-weight:bold;font-style:italic" fill="#000" stroke="#000" stroke-width="0.32">fecE</text>
<text transform="translate(634.56,129.30) rotate(-90)" font-size="8.9" text-anchor="middle" fill="#0d1f12" stroke="#0d1f12" stroke-width="0.12">100%</text>
<text transform="translate(634.56,161.65) rotate(-90)" font-size="8.9" text-anchor="middle" fill="#0d1f12" stroke="#0d1f12" stroke-width="0.12">100%</text>
<text transform="translate(634.56,193.95) rotate(-90)" font-size="8.9" text-anchor="middle" fill="#0d1f12" stroke="#0d1f12" stroke-width="0.12">100%</text>
<text transform="translate(648.69,111.8) rotate(-90)" font-size="8.6" style="font-weight:bold;font-style:italic" fill="#000" stroke="#000" stroke-width="0.32">feoA</text>
<text transform="translate(648.69,129.30) rotate(-90)" font-size="8.9" text-anchor="middle" fill="#0d1f12" stroke="#0d1f12" stroke-width="0.12">100%</text>
<text transform="translate(648.69,161.65) rotate(-90)" font-size="8.9" text-anchor="middle" fill="#0d1f12" stroke="#0d1f12" stroke-width="0.12">100%</text>
<text transform="translate(648.69,193.95) rotate(-90)" font-size="8.9" text-anchor="middle" fill="#0d1f12" stroke="#0d1f12" stroke-width="0.12">100%</text>
<text transform="translate(662.81,111.8) rotate(-90)" font-size="8.6" style="font-weight:bold;font-style:italic" fill="#000" stroke="#000" stroke-width="0.32">feoB</text>
<text transform="translate(662.81,129.30) rotate(-90)" font-size="8.9" text-anchor="middle" fill="#0d1f12" stroke="#0d1f12" stroke-width="0.12">100%</text>
<text transform="translate(662.81,161.65) rotate(-90)" font-size="8.9" text-anchor="middle" fill="#0d1f12" stroke="#0d1f12" stroke-width="0.12">100%</text>
<text transform="translate(662.81,193.95) rotate(-90)" font-size="8.9" text-anchor="middle" fill="#0d1f12" stroke="#0d1f12" stroke-width="0.12">100%</text>
<text transform="translate(676.94,111.8) rotate(-90)" font-size="8.6" style="font-weight:bold;font-style:italic" fill="#000" stroke="#000" stroke-width="0.32">fepB</text>
<text transform="translate(676.94,129.30) rotate(-90)" font-size="8.9" text-anchor="middle" fill="#0d1f12" stroke="#0d1f12" stroke-width="0.12">100%</text>
<text transform="translate(676.94,161.65) rotate(-90)" font-size="8.9" text-anchor="middle" fill="#0d1f12" stroke="#0d1f12" stroke-width="0.12">100%</text>
<text transform="translate(676.94,193.95) rotate(-90)" font-size="8.9" text-anchor="middle" fill="#0d1f12" stroke="#0d1f12" stroke-width="0.12">100%</text>
<text transform="translate(691.06,111.8) rotate(-90)" font-size="8.6" style="font-weight:bold;font-style:italic" fill="#000" stroke="#000" stroke-width="0.32">fepC</text>
<text transform="translate(691.06,129.30) rotate(-90)" font-size="8.9" text-anchor="middle" fill="#0d1f12" stroke="#0d1f12" stroke-width="0.12">100%</text>
<text transform="translate(691.06,161.65) rotate(-90)" font-size="8.9" text-anchor="middle" fill="#0d1f12" stroke="#0d1f12" stroke-width="0.12">97%</text>
<text transform="translate(691.06,193.95) rotate(-90)" font-size="8.9" text-anchor="middle" fill="#0d1f12" stroke="#0d1f12" stroke-width="0.12">100%</text>
<text transform="translate(705.19,111.8) rotate(-90)" font-size="8.6" style="font-weight:bold;font-style:italic" fill="#000" stroke="#000" stroke-width="0.32">fepD</text>
<text transform="translate(705.19,129.30) rotate(-90)" font-size="8.9" text-anchor="middle" fill="#0d1f12" stroke="#0d1f12" stroke-width="0.12">100%</text>
<text transform="translate(705.19,161.65) rotate(-90)" font-size="8.9" text-anchor="middle" fill="#0d1f12" stroke="#0d1f12" stroke-width="0.12">100%</text>
<text transform="translate(705.19,193.95) rotate(-90)" font-size="8.9" text-anchor="middle" fill="#0d1f12" stroke="#0d1f12" stroke-width="0.12">100%</text>
<text transform="translate(719.31,111.8) rotate(-90)" font-size="8.6" style="font-weight:bold" fill="#000" stroke="#000" stroke-width="0.32">Capsule gene cluster</text>
<text transform="translate(719.31,129.30) rotate(-90)" font-size="8.9" text-anchor="middle" fill="#0d1f12" stroke="#0d1f12" stroke-width="0.12">21%</text>
<text transform="translate(719.31,161.65) rotate(-90)" font-size="8.9" text-anchor="middle" fill="#0d1f12" stroke="#0d1f12" stroke-width="0.12">10%</text>
<text transform="translate(719.31,193.95) rotate(-90)" font-size="8.9" text-anchor="middle" fill="#0d1f12" stroke="#0d1f12" stroke-width="0.12">5%</text>
<text transform="translate(733.44,111.8) rotate(-90)" font-size="8.6" style="font-weight:bold" fill="#000" stroke="#000" stroke-width="0.32">bee locus</text>
<text transform="translate(733.44,129.30) rotate(-90)" font-size="8.9" text-anchor="middle" fill="#0d1f12" stroke="#0d1f12" stroke-width="0.12">0%</text>
<text transform="translate(733.44,161.65) rotate(-90)" font-size="8.9" text-anchor="middle" fill="#0d1f12" stroke="#0d1f12" stroke-width="0.12">3%</text>
<text transform="translate(733.44,193.95) rotate(-90)" font-size="8.9" text-anchor="middle" fill="#0d1f12" stroke="#0d1f12" stroke-width="0.12">0%</text>
<text x="2.4" y="127.0" font-size="8.5" font-weight="bold" font-style="italic" stroke="#000" stroke-width="0.3">L. formosensis</text>
<text x="2.4" y="137.3" font-size="8.5" font-weight="bold" font-style="italic" stroke="#000" stroke-width="0.3">(n=53)</text>
<text x="2.4" y="159.3" font-size="8.5" font-weight="bold" font-style="italic" stroke="#000" stroke-width="0.3">L. garvieae</text>
<text x="2.4" y="169.7" font-size="8.5" font-weight="bold" font-style="italic" stroke="#000" stroke-width="0.3">(n=39)</text>
<text x="2.4" y="191.6" font-size="8.5" font-weight="bold" font-style="italic" stroke="#000" stroke-width="0.3">L. petauri</text>
<text x="2.4" y="201.9" font-size="8.5" font-weight="bold"  stroke="#000" stroke-width="0.3">(n=120)</text>
<text x="4" y="242.6" font-size="27" font-weight="bold">(B)</text>
<text x="41.3" y="254.6" font-size="11.05" font-weight="bold" stroke="#000" stroke-width="0.2">adonis R2 by species: 0.4508; <tspan font-style="italic">p</tspan>-value: 0.001;adonis R2 by source: 0.2204; <tspan font-style="italic">p</tspan>-value: 0.001</text>
<g stroke="#F4F4F4" stroke-width="0.8" fill="none">
<line x1="94.15" y1="261.3" x2="94.15" y2="659.3"/>
<line x1="237.85" y1="261.3" x2="237.85" y2="659.3"/>
<line x1="381.55" y1="261.3" x2="381.55" y2="659.3"/>
<line x1="525.25" y1="261.3" x2="525.25" y2="659.3"/>
<line x1="41.5" y1="597.50" x2="567.5" y2="597.50"/>
<line x1="41.5" y1="500.30" x2="567.5" y2="500.30"/>
<line x1="41.5" y1="403.10" x2="567.5" y2="403.10"/>
<line x1="41.5" y1="305.90" x2="567.5" y2="305.90"/>
</g><g stroke="#EAEAEA" stroke-width="1" fill="none">
<line x1="166.00" y1="261.3" x2="166.00" y2="659.3"/>
<line x1="309.70" y1="261.3" x2="309.70" y2="659.3"/>
<line x1="453.40" y1="261.3" x2="453.40" y2="659.3"/>
<line x1="41.5" y1="646.10" x2="567.5" y2="646.10"/>
<line x1="41.5" y1="548.90" x2="567.5" y2="548.90"/>
<line x1="41.5" y1="451.70" x2="567.5" y2="451.70"/>
<line x1="41.5" y1="354.50" x2="567.5" y2="354.50"/>
</g>
<g fill="none" stroke="#B9B9B9" stroke-width="1.6" stroke-linejoin="round"><path d="M329.0,561.1 L327.5,561.3 L326.0,561.4 L324.5,561.3 L323.2,561.0 L322.0,560.7 L321.0,560.3 L320.0,559.8 L319.0,559.2 L318.0,558.6 L317.3,558.0 L316.5,557.3 L315.7,556.5 L315.0,555.7 L314.4,555.0 L313.7,554.0 L313.0,553.0 L312.5,552.0 L312.0,551.1 L311.5,550.1 L311.0,549.1 L310.5,548.1 L310.0,547.2 L309.5,546.5 L308.5,545.7 L307.5,545.3 L306.0,545.3 L304.6,545.5 L303.5,545.8 L302.5,546.0 L301.0,546.4 L300.0,546.7 L299.0,547.0 L297.5,547.4 L296.5,547.6 L295.0,548.0 L294.0,548.2 L292.7,548.5 L291.5,548.7 L290.1,549.0 L289.0,549.2 L287.5,549.4 L286.5,549.6 L285.0,549.8 L283.8,550.0 L282.5,550.2 L281.0,550.3 L279.6,550.5 L278.5,550.6 L277.0,550.8 L275.5,550.9 L274.2,551.0 L273.0,551.1 L271.5,551.2 L270.0,551.3 L268.5,551.3 L267.0,551.4 L265.5,551.5 L264.2,551.5 L263.0,551.5 L261.5,551.6 L260.0,551.6 L258.5,551.7 L257.0,551.7 L255.5,551.8 L254.0,551.8 L252.5,551.9 L251.0,551.9 L249.5,552.0 L248.5,552.0 L247.0,552.0 L245.5,552.1 L244.0,552.1 L242.5,552.0 L241.0,552.0 L240.0,552.0 L238.5,551.9 L237.0,551.8 L235.5,551.7 L234.0,551.6 L233.0,551.5 L231.5,551.3 L230.0,551.1 L229.0,551.0 L227.5,550.7 L226.2,550.5 L225.0,550.3 L223.6,550.0 L222.5,549.8 L221.3,549.5 L220.0,549.2 L219.0,548.9 L217.5,548.5 L216.5,548.2 L215.5,547.9 L214.1,547.5 L213.0,547.2 L212.0,546.8 L211.0,546.5 L209.8,546.0 L208.5,545.5 L207.5,545.1 L206.5,544.7 L205.5,544.3 L204.5,543.8 L203.5,543.3 L202.5,542.8 L201.5,542.3 L200.5,541.8 L199.5,541.3 L198.5,540.7 L197.5,540.1 L196.5,539.5 L195.7,539.0 L194.9,538.5 L194.0,537.9 L193.0,537.2 L192.1,536.5 L191.4,536.0 L190.5,535.3 L189.6,534.5 L189.0,534.0 L188.0,533.1 L187.4,532.5 L186.5,531.7 L185.9,531.0 L185.0,530.1 L184.5,529.5 L183.6,528.5 L183.0,527.7 L182.5,527.0 L181.8,526.0 L181.1,525.0 L180.5,524.0 L180.0,523.1 L179.5,522.2 L179.0,521.1 L178.5,520.0 L178.1,519.0 L177.8,518.0 L177.5,516.9 L177.2,515.5 L177.0,514.5 L176.8,513.0 L176.7,511.5 L176.7,510.0 L176.8,508.5 L176.9,507.0 L177.0,505.8 L177.1,504.5 L177.0,503.0 L176.9,502.0 L176.7,500.5 L176.6,499.0 L176.5,498.0 L176.4,496.5 L176.4,495.0 L176.5,494.0 L176.7,492.5 L176.9,491.0 L177.1,490.0 L177.5,488.6 L177.8,487.5 L178.2,486.5 L178.6,485.5 L179.1,484.5 L179.6,483.5 L180.2,482.5 L180.8,481.5 L181.5,480.5 L182.0,479.8 L182.7,479.0 L183.5,478.1 L184.0,477.5 L185.0,476.5 L185.6,476.0 L186.5,475.2 L187.4,474.5 L188.1,474.0 L189.0,473.4 L190.0,472.7 L191.0,472.1 L192.0,471.5 L193.0,471.0 L194.0,470.5 L195.0,470.1 L196.0,469.7 L197.0,469.3 L198.0,468.9 L199.3,468.5 L200.5,468.1 L201.5,467.9 L202.9,467.5 L204.0,467.2 L205.0,467.0 L206.5,466.7 L207.5,466.5 L209.0,466.2 L210.0,466.0 L211.5,465.7 L212.5,465.5 L214.0,465.2 L215.0,465.0 L216.5,464.6 L217.5,464.4 L218.9,464.0 L220.0,463.7 L221.0,463.3 L222.0,463.0 L223.2,462.5 L224.4,462.0 L225.4,461.5 L226.4,461.0 L227.2,460.5 L228.1,460.0 L229.0,459.4 L230.0,458.5 L230.5,457.9 L231.1,457.0 L231.5,456.0 L232.0,454.5 L232.2,453.5 L232.5,452.5 L232.9,451.0 L233.2,450.0 L233.5,448.8 L233.9,447.5 L234.3,446.5 L234.7,445.5 L235.1,444.5 L235.5,443.5 L236.0,442.5 L236.5,441.5 L237.0,440.5 L237.6,439.5 L238.3,438.5 L238.9,437.5 L239.5,436.7 L240.0,436.0 L240.8,435.0 L241.5,434.1 L242.0,433.5 L243.0,432.5 L243.5,431.9 L244.4,431.0 L245.0,430.4 L246.0,429.5 L246.6,429.0 L247.5,428.2 L248.4,427.5 L249.1,427.0 L250.0,426.3 L251.0,425.6 L251.9,425.0 L252.6,424.5 L253.5,424.0 L254.5,423.4 L255.5,422.8 L256.5,422.2 L257.5,421.7 L258.5,421.2 L259.5,420.7 L260.5,420.3 L261.5,419.8 L262.5,419.4 L263.6,419.0 L264.9,418.5 L266.0,418.1 L267.0,417.8 L268.0,417.5 L269.5,417.0 L270.5,416.8 L271.5,416.5 L273.0,416.1 L274.0,415.9 L275.5,415.6 L276.5,415.4 L278.0,415.2 L279.1,415.0 L280.5,414.8 L282.0,414.6 L283.3,414.5 L284.5,414.4 L286.0,414.3 L287.5,414.2 L289.0,414.2 L290.5,414.2 L292.0,414.2 L293.5,414.2 L295.0,414.3 L296.5,414.4 L298.0,414.5 L299.0,414.6 L300.5,414.7 L302.0,414.9 L303.0,415.1 L304.5,415.3 L305.8,415.5 L307.0,415.7 L308.5,416.0 L309.5,416.2 L310.8,416.5 L312.0,416.8 L313.1,417.0 L314.5,417.3 L315.5,417.6 L317.0,417.9 L318.0,418.2 L319.5,418.5 L320.5,418.7 L322.0,419.0 L323.0,419.1 L324.5,419.4 L325.5,419.5 L327.0,419.7 L328.5,419.9 L329.5,420.1 L331.0,420.3 L332.0,420.5 L333.5,420.8 L334.6,421.0 L336.0,421.3 L337.0,421.5 L338.5,421.8 L339.5,422.1 L341.0,422.4 L342.0,422.6 L343.5,423.0 L344.5,423.2 L345.8,423.5 L347.0,423.8 L348.1,424.0 L349.5,424.3 L350.6,424.5 L352.0,424.7 L353.5,425.0 L354.5,425.1 L356.0,425.2 L357.5,425.3 L359.0,425.4 L360.5,425.3 L362.0,425.2 L363.5,425.0 L364.5,424.8 L366.0,424.5 L367.0,424.2 L368.0,423.9 L369.1,423.5 L370.3,423.0 L371.4,422.5 L372.3,422.0 L373.2,421.5 L374.0,421.0 L375.0,420.4 L376.0,419.7 L376.9,419.0 L377.5,418.5 L378.5,417.7 L379.3,417.0 L380.0,416.4 L381.0,415.5 L381.5,415.0 L382.5,414.0 L383.0,413.5 L384.0,412.5 L384.5,412.0 L385.4,411.0 L386.0,410.4 L386.9,409.5 L387.5,408.9 L388.3,408.0 L389.0,407.3 L389.8,406.5 L390.5,405.8 L391.4,405.0 L392.0,404.4 L393.0,403.5 L393.5,403.0 L394.5,402.1 L395.3,401.5 L396.0,400.9 L397.0,400.1 L397.8,399.5 L398.5,398.9 L399.5,398.2 L400.5,397.5 L401.3,397.0 L402.0,396.5 L403.0,395.9 L404.0,395.3 L405.0,394.7 L406.0,394.2 L407.0,393.7 L408.0,393.2 L409.0,392.7 L410.0,392.2 L411.0,391.8 L412.0,391.4 L413.1,391.0 L414.5,390.5 L415.5,390.2 L416.5,389.8 L417.6,389.5 L419.0,389.1 L420.0,388.9 L421.5,388.5 L422.5,388.3 L424.0,388.1 L425.0,387.9 L426.5,387.7 L428.0,387.5 L429.0,387.4 L430.5,387.3 L432.0,387.2 L433.5,387.2 L435.0,387.2 L436.5,387.2 L438.0,387.3 L439.5,387.4 L440.5,387.5 L442.0,387.7 L443.5,387.9 L444.5,388.1 L446.0,388.4 L447.0,388.6 L448.5,388.9 L449.5,389.2 L450.6,389.5 L452.0,389.9 L453.0,390.3 L454.0,390.6 L455.0,391.0 L456.3,391.5 L457.4,392.0 L458.5,392.5 L459.5,393.0 L460.5,393.5 L461.4,394.0 L462.3,394.5 L463.1,395.0 L464.0,395.5 L465.0,396.2 L466.0,396.9 L466.8,397.5 L467.5,398.1 L468.5,398.9 L469.2,399.5 L470.0,400.2 L470.8,401.0 L471.5,401.8 L472.2,402.5 L473.0,403.4 L473.5,404.1 L474.2,405.0 L474.9,406.0 L475.5,406.8 L476.0,407.7 L476.5,408.5 L477.0,409.5 L477.5,410.5 L478.0,411.6 L478.5,412.9 L478.9,414.0 L479.2,415.0 L479.5,416.2 L479.8,417.5 L480.0,418.8 L480.1,420.0 L480.3,421.5 L480.3,423.0 L480.2,424.5 L480.1,426.0 L480.0,427.0 L479.8,428.5 L479.5,429.8 L479.2,431.0 L478.9,432.0 L478.5,433.4 L478.1,434.5 L477.8,435.5 L477.4,436.5 L476.9,437.5 L476.5,438.5 L476.0,439.6 L475.5,440.6 L475.0,441.6 L474.5,442.6 L474.0,443.6 L473.5,444.6 L473.0,445.5 L472.5,446.5 L471.9,447.5 L471.4,448.5 L470.9,449.5 L470.4,450.5 L469.9,451.5 L469.4,452.5 L468.9,453.5 L468.4,454.5 L467.9,455.5 L467.5,456.5 L467.0,457.7 L466.5,458.8 L466.0,460.0 L465.6,461.0 L465.2,462.0 L464.8,463.0 L464.4,464.0 L464.0,465.1 L463.5,466.4 L463.0,467.5 L462.6,468.5 L462.2,469.5 L461.7,470.5 L461.3,471.5 L460.8,472.5 L460.3,473.5 L459.8,474.5 L459.2,475.5 L458.6,476.5 L458.0,477.5 L457.5,478.3 L457.0,479.0 L456.3,480.0 L455.6,481.0 L455.0,481.7 L454.4,482.5 L453.5,483.5 L453.0,484.1 L452.2,485.0 L451.5,485.7 L450.7,486.5 L450.0,487.2 L449.1,488.0 L448.5,488.5 L447.5,489.4 L446.8,490.0 L446.0,490.6 L445.0,491.4 L444.2,492.0 L443.5,492.5 L442.5,493.2 L441.5,493.8 L440.5,494.5 L439.7,495.0 L438.9,495.5 L438.0,496.0 L437.0,496.6 L436.0,497.2 L435.0,497.7 L434.0,498.2 L433.0,498.7 L432.0,499.2 L431.0,499.7 L430.0,500.2 L429.0,500.7 L428.0,501.1 L427.0,501.5 L425.9,502.0 L424.7,502.5 L423.5,503.0 L422.5,503.4 L421.5,503.8 L420.5,504.1 L419.5,504.5 L418.1,505.0 L417.0,505.4 L416.0,505.7 L415.0,506.0 L413.5,506.5 L412.5,506.8 L411.5,507.1 L410.1,507.5 L409.0,507.8 L408.0,508.1 L406.5,508.4 L405.5,508.7 L404.1,509.0 L403.0,509.2 L401.7,509.5 L400.5,509.7 L399.0,510.0 L398.0,510.2 L396.5,510.4 L395.5,510.5 L394.0,510.7 L392.5,510.9 L391.4,511.0 L390.0,511.1 L388.5,511.2 L387.0,511.3 L385.5,511.4 L384.0,511.4 L382.5,511.4 L381.0,511.4 L379.5,511.4 L378.0,511.4 L376.5,511.3 L375.0,511.2 L373.5,511.1 L372.1,511.0 L371.0,510.9 L369.5,510.8 L368.0,510.6 L366.9,510.5 L365.5,510.3 L364.0,510.2 L362.5,510.0 L361.5,509.9 L360.0,509.7 L358.5,509.5 L357.5,509.4 L356.0,509.3 L354.5,509.1 L353.0,509.0 L352.0,508.9 L350.5,508.9 L349.0,508.8 L347.5,508.8 L346.0,508.9 L344.5,508.9 L343.5,509.0 L342.0,509.2 L340.5,509.5 L339.5,509.7 L338.2,510.0 L337.0,510.4 L336.0,510.7 L335.0,511.1 L334.0,511.5 L333.0,512.0 L332.0,512.5 L331.0,513.1 L330.0,513.8 L329.0,514.5 L328.4,515.0 L327.5,515.7 L326.7,516.5 L326.0,517.2 L325.2,518.0 L324.5,518.9 L324.0,519.5 L323.3,520.5 L322.6,521.5 L322.0,522.4 L321.5,523.3 L321.0,524.2 L320.5,525.3 L320.0,526.4 L319.6,527.5 L319.3,528.5 L319.0,529.7 L318.9,531.0 L319.1,532.0 L319.7,533.0 L320.5,533.6 L321.5,534.0 L323.0,534.5 L324.0,534.7 L325.0,535.0 L326.5,535.5 L327.5,535.8 L328.5,536.2 L329.5,536.7 L330.5,537.2 L331.5,537.8 L332.4,538.5 L333.0,539.0 L334.0,539.9 L334.6,540.5 L335.4,541.5 L336.0,542.4 L336.5,543.2 L337.0,544.2 L337.5,545.5 L337.8,546.5 L338.0,547.5 L338.2,549.0 L338.1,550.5 L338.0,551.6 L337.7,553.0 L337.3,554.0 L336.9,555.0 L336.3,556.0 L335.6,557.0 L335.0,557.7 L334.1,558.5 L333.5,559.0 L332.5,559.7 L331.5,560.2 L330.5,560.6 L329.3,561.0"/><path d="M247.5,546.5 L246.0,546.6 L244.5,546.7 L243.0,546.8 L241.5,546.8 L240.0,546.8 L238.5,546.7 L237.0,546.7 L235.5,546.6 L234.5,546.5 L233.0,546.4 L231.5,546.2 L230.0,546.0 L229.0,545.9 L227.5,545.6 L226.5,545.4 L225.0,545.1 L224.0,544.9 L222.5,544.6 L221.5,544.4 L220.1,544.0 L219.0,543.7 L218.0,543.4 L216.7,543.0 L215.5,542.6 L214.5,542.3 L213.5,541.9 L212.5,541.5 L211.2,541.0 L210.0,540.5 L209.0,540.1 L208.0,539.6 L207.0,539.1 L206.0,538.6 L205.0,538.1 L204.0,537.6 L203.0,537.0 L202.2,536.5 L201.4,536.0 L200.5,535.4 L199.5,534.8 L198.5,534.1 L197.7,533.5 L197.0,532.9 L196.0,532.1 L195.2,531.5 L194.5,530.8 L193.6,530.0 L193.0,529.4 L192.1,528.5 L191.5,527.8 L190.8,527.0 L190.0,526.0 L189.5,525.4 L188.9,524.5 L188.2,523.5 L187.6,522.5 L187.1,521.5 L186.6,520.5 L186.1,519.5 L185.8,518.5 L185.4,517.5 L185.0,516.0 L184.8,515.0 L184.6,513.5 L184.5,512.0 L184.5,510.5 L184.7,509.0 L185.0,507.5 L185.2,506.5 L185.5,505.5 L185.9,504.0 L186.1,503.0 L186.2,501.5 L186.1,500.0 L186.0,498.5 L185.9,497.5 L185.9,496.0 L186.0,494.6 L186.1,493.5 L186.4,492.0 L186.7,491.0 L187.0,490.0 L187.5,488.7 L188.0,487.7 L188.5,486.7 L189.0,485.9 L189.6,485.0 L190.4,484.0 L191.0,483.3 L191.8,482.5 L192.5,481.9 L193.5,481.0 L194.2,480.5 L195.0,479.9 L196.0,479.3 L197.0,478.8 L198.0,478.3 L199.0,477.8 L200.0,477.4 L201.3,477.0 L202.5,476.6 L203.5,476.4 L205.0,476.1 L206.0,475.9 L207.5,475.7 L209.0,475.5 L210.0,475.4 L211.5,475.3 L213.0,475.2 L214.5,475.2 L216.0,475.2 L217.5,475.1 L219.0,475.1 L220.5,475.0 L221.5,475.0 L223.0,474.9 L224.5,474.8 L226.0,474.6 L227.0,474.5 L228.5,474.3 L229.8,474.0 L231.0,473.7 L232.0,473.5 L233.5,473.0 L234.5,472.7 L235.5,472.3 L236.5,471.8 L237.5,471.2 L238.4,470.5 L239.0,469.5 L239.2,468.5 L239.2,467.0 L239.1,465.5 L238.9,464.5 L238.7,463.0 L238.6,461.5 L238.5,460.2 L238.5,459.0 L238.5,457.5 L238.5,456.5 L238.6,455.0 L238.8,453.5 L239.0,452.5 L239.3,451.0 L239.6,450.0 L240.0,448.7 L240.4,447.5 L240.8,446.5 L241.2,445.5 L241.7,444.5 L242.2,443.5 L242.7,442.5 L243.3,441.5 L244.0,440.5 L244.5,439.7 L245.0,439.0 L245.8,438.0 L246.5,437.1 L247.0,436.5 L247.9,435.5 L248.5,434.9 L249.4,434.0 L250.0,433.4 L251.0,432.5 L251.6,432.0 L252.5,431.3 L253.5,430.5 L254.2,430.0 L255.0,429.4 L256.0,428.7 L257.0,428.1 L258.0,427.5 L258.8,427.0 L259.7,426.5 L260.6,426.0 L261.6,425.5 L262.7,425.0 L263.8,424.5 L264.9,424.0 L266.0,423.6 L267.0,423.2 L268.0,422.8 L269.0,422.5 L270.4,422.0 L271.5,421.7 L272.5,421.4 L274.0,421.0 L275.0,420.8 L276.2,420.5 L277.5,420.2 L278.8,420.0 L280.0,419.8 L281.5,419.6 L282.5,419.5 L284.0,419.3 L285.5,419.2 L287.0,419.1 L288.2,419.0 L289.5,419.0 L291.0,418.9 L292.5,419.0 L294.0,419.0 L295.0,419.0 L296.5,419.1 L298.0,419.2 L299.5,419.4 L300.5,419.5 L302.0,419.7 L303.5,419.9 L304.5,420.1 L306.0,420.4 L307.0,420.6 L308.5,420.9 L309.5,421.2 L310.7,421.5 L312.0,421.8 L313.0,422.1 L314.1,422.5 L315.5,422.9 L316.5,423.3 L317.5,423.7 L318.5,424.0 L319.6,424.5 L320.8,425.0 L322.0,425.5 L323.0,426.0 L324.0,426.4 L325.0,426.9 L326.0,427.4 L327.0,427.8 L328.0,428.3 L329.0,428.8 L330.0,429.2 L331.0,429.6 L332.2,430.0 L333.5,430.4 L334.5,430.7 L335.7,431.0 L337.0,431.4 L338.0,431.6 L339.2,432.0 L340.5,432.4 L341.5,432.7 L342.6,433.0 L344.0,433.4 L345.0,433.7 L346.1,434.0 L347.5,434.4 L348.5,434.7 L349.9,435.0 L351.0,435.3 L352.2,435.5 L353.5,435.7 L355.0,436.0 L356.0,436.1 L357.5,436.2 L359.0,436.3 L360.5,436.3 L362.0,436.2 L363.5,436.1 L364.5,436.0 L366.0,435.7 L367.1,435.5 L368.5,435.1 L369.5,434.8 L370.6,434.5 L371.9,434.0 L373.0,433.6 L374.0,433.1 L375.0,432.6 L376.0,432.1 L377.0,431.6 L378.0,431.0 L378.8,430.5 L379.6,430.0 L380.5,429.4 L381.5,428.6 L382.4,428.0 L383.0,427.5 L384.0,426.7 L384.8,426.0 L385.5,425.3 L386.4,424.5 L387.0,423.9 L387.9,423.0 L388.5,422.4 L389.4,421.5 L390.0,420.8 L390.7,420.0 L391.5,419.1 L392.1,418.5 L393.0,417.5 L393.5,416.9 L394.3,416.0 L395.0,415.2 L395.6,414.5 L396.5,413.5 L397.0,413.0 L397.9,412.0 L398.5,411.4 L399.4,410.5 L400.0,409.9 L401.0,409.0 L401.5,408.5 L402.5,407.6 L403.2,407.0 L404.0,406.4 L405.0,405.6 L405.8,405.0 L406.5,404.5 L407.5,403.8 L408.5,403.1 L409.5,402.5 L410.4,402.0 L411.2,401.5 L412.2,401.0 L413.2,400.5 L414.2,400.0 L415.3,399.5 L416.5,399.0 L417.5,398.6 L418.5,398.3 L419.5,397.9 L420.9,397.5 L422.0,397.2 L423.0,397.0 L424.5,396.6 L425.5,396.4 L427.0,396.2 L428.4,396.0 L429.5,395.9 L431.0,395.8 L432.5,395.7 L434.0,395.7 L435.5,395.7 L437.0,395.8 L438.5,395.9 L439.6,396.0 L441.0,396.2 L442.5,396.5 L443.5,396.7 L445.0,397.0 L446.0,397.3 L447.0,397.5 L448.4,398.0 L449.5,398.4 L450.5,398.8 L451.5,399.2 L452.5,399.6 L453.5,400.1 L454.5,400.7 L455.5,401.2 L456.5,401.8 L457.5,402.5 L458.2,403.0 L459.0,403.6 L460.0,404.4 L460.7,405.0 L461.5,405.7 L462.3,406.5 L463.0,407.3 L463.6,408.0 L464.4,409.0 L465.0,409.8 L465.5,410.5 L466.1,411.5 L466.6,412.5 L467.1,413.5 L467.6,414.5 L468.0,415.6 L468.5,417.0 L468.7,418.0 L469.0,419.5 L469.1,420.5 L469.3,422.0 L469.3,423.5 L469.2,425.0 L469.1,426.5 L468.9,427.5 L468.6,429.0 L468.4,430.0 L468.0,431.4 L467.6,432.5 L467.3,433.5 L466.9,434.5 L466.4,435.5 L466.0,436.5 L465.5,437.5 L465.0,438.5 L464.5,439.5 L464.0,440.5 L463.4,441.5 L462.9,442.5 L462.3,443.5 L461.8,444.5 L461.2,445.5 L460.7,446.5 L460.1,447.5 L459.6,448.5 L459.1,449.5 L458.6,450.5 L458.1,451.5 L457.7,452.5 L457.2,453.5 L456.8,454.5 L456.4,455.5 L456.0,456.5 L455.5,457.7 L455.0,459.0 L454.6,460.0 L454.2,461.0 L453.9,462.0 L453.5,463.0 L453.0,464.3 L452.5,465.5 L452.1,466.5 L451.7,467.5 L451.2,468.5 L450.8,469.5 L450.3,470.5 L449.7,471.5 L449.2,472.5 L448.6,473.5 L448.0,474.4 L447.5,475.2 L447.0,476.0 L446.2,477.0 L445.5,477.9 L445.0,478.5 L444.2,479.5 L443.5,480.2 L442.8,481.0 L442.0,481.8 L441.3,482.5 L440.5,483.2 L439.6,484.0 L439.0,484.5 L438.0,485.3 L437.0,486.0 L436.4,486.5 L435.5,487.1 L434.5,487.8 L433.5,488.4 L432.6,489.0 L431.7,489.5 L430.9,490.0 L430.0,490.5 L429.0,491.0 L428.0,491.5 L427.0,492.0 L426.0,492.5 L425.0,493.0 L423.9,493.5 L422.9,494.0 L421.9,494.5 L420.9,495.0 L419.8,495.5 L418.7,496.0 L417.6,496.5 L416.5,497.0 L415.5,497.4 L414.5,497.8 L413.5,498.1 L412.4,498.5 L411.0,498.9 L410.0,499.2 L408.8,499.5 L407.5,499.8 L406.5,500.0 L405.0,500.3 L403.9,500.5 L402.5,500.7 L401.0,500.9 L400.0,501.0 L398.5,501.1 L397.0,501.2 L395.5,501.3 L394.0,501.4 L392.5,501.4 L391.0,501.4 L389.5,501.5 L388.0,501.5 L386.5,501.5 L385.0,501.5 L383.5,501.5 L382.0,501.4 L380.5,501.4 L379.0,501.3 L377.5,501.2 L376.0,501.0 L375.0,500.9 L373.5,500.7 L372.0,500.5 L371.0,500.4 L369.5,500.2 L368.5,500.0 L367.0,499.7 L365.7,499.5 L364.5,499.3 L363.2,499.0 L362.0,498.8 L360.7,498.5 L359.5,498.2 L358.3,498.0 L357.0,497.7 L355.9,497.5 L354.5,497.2 L353.4,497.0 L352.0,496.8 L350.5,496.5 L349.5,496.4 L348.0,496.2 L346.6,496.0 L345.5,495.9 L344.0,495.8 L342.5,495.8 L341.0,495.8 L339.5,495.8 L338.0,495.9 L337.0,496.0 L335.5,496.2 L334.0,496.5 L333.0,496.7 L331.5,497.0 L330.5,497.3 L329.5,497.6 L328.1,498.0 L327.0,498.4 L326.0,498.8 L325.0,499.1 L324.0,499.5 L322.7,500.0 L321.5,500.5 L320.5,500.9 L319.5,501.3 L318.5,501.7 L317.5,502.1 L316.5,502.5 L315.4,503.0 L314.4,503.5 L313.4,504.0 L312.4,504.5 L311.5,505.0 L310.5,505.6 L309.5,506.2 L308.5,506.9 L307.6,507.5 L306.9,508.0 L306.0,508.7 L305.0,509.5 L304.5,510.0 L303.5,510.9 L302.9,511.5 L302.0,512.5 L301.5,513.0 L300.7,514.0 L300.0,514.9 L299.5,515.5 L298.8,516.5 L298.1,517.5 L297.5,518.3 L297.0,519.0 L296.3,520.0 L295.6,521.0 L295.0,521.8 L294.5,522.5 L293.7,523.5 L293.0,524.4 L292.5,525.0 L291.6,526.0 L291.0,526.6 L290.2,527.5 L289.5,528.1 L288.5,529.0 L287.9,529.5 L287.0,530.3 L286.0,531.0 L285.3,531.5 L284.5,532.1 L283.5,532.7 L282.5,533.3 L281.5,533.9 L280.5,534.4 L279.5,535.0 L278.6,535.5 L277.7,536.0 L276.9,536.5 L276.0,537.0 L275.0,537.6 L274.0,538.2 L273.0,538.8 L272.0,539.3 L271.0,539.9 L270.0,540.4 L269.0,540.9 L268.0,541.4 L267.0,541.8 L266.0,542.2 L265.0,542.6 L264.0,543.0 L262.6,543.5 L261.5,543.8 L260.5,544.1 L259.2,544.5 L258.0,544.8 L257.0,545.1 L255.5,545.4 L254.5,545.6 L253.0,545.8 L252.0,546.0 L250.5,546.2 L249.0,546.4 L247.7,546.5"/><path d="M327.5,551.1 L326.0,551.5 L324.8,551.0 L324.0,550.1 L323.8,549.0 L324.0,548.0 L325.0,547.0 L326.0,546.8 L327.1,547.0 L328.0,547.8 L328.5,549.0 L328.1,550.5 L327.5,551.1"/><path d="M245.0,542.0 L243.5,542.1 L242.0,542.1 L240.5,542.1 L239.0,542.1 L237.5,542.0 L236.5,542.0 L235.0,541.8 L233.5,541.7 L232.0,541.5 L231.0,541.4 L229.5,541.1 L228.5,541.0 L227.0,540.7 L226.0,540.5 L224.5,540.1 L223.5,539.9 L222.1,539.5 L221.0,539.2 L220.0,538.9 L218.9,538.5 L217.5,538.0 L216.5,537.7 L215.5,537.3 L214.5,536.9 L213.5,536.4 L212.5,536.0 L211.5,535.5 L210.5,535.0 L209.5,534.5 L208.5,533.9 L207.5,533.3 L206.5,532.7 L205.5,532.1 L204.7,531.5 L204.0,531.0 L203.0,530.3 L202.0,529.5 L201.4,529.0 L200.5,528.2 L199.8,527.5 L199.0,526.7 L198.3,526.0 L197.5,525.0 L197.0,524.4 L196.3,523.5 L195.6,522.5 L195.0,521.5 L194.5,520.6 L194.0,519.6 L193.5,518.5 L193.2,517.5 L192.9,516.5 L192.5,515.0 L192.4,514.0 L192.3,512.5 L192.3,511.0 L192.5,509.7 L192.7,508.5 L193.0,507.5 L193.4,506.0 L193.7,505.0 L193.8,503.5 L193.6,502.0 L193.5,501.0 L193.2,499.5 L193.0,498.0 L193.0,497.0 L193.0,496.0 L193.2,494.5 L193.5,493.0 L193.8,492.0 L194.3,491.0 L194.8,490.0 L195.4,489.0 L196.0,488.2 L196.6,487.5 L197.5,486.7 L198.3,486.0 L199.0,485.5 L200.0,484.8 L201.0,484.3 L202.0,483.9 L203.0,483.5 L204.5,483.0 L205.5,482.8 L207.0,482.5 L208.0,482.4 L209.5,482.3 L211.0,482.2 L212.5,482.2 L214.0,482.3 L215.5,482.4 L217.0,482.5 L218.0,482.6 L219.5,482.7 L221.0,482.9 L222.5,483.0 L223.5,483.1 L225.0,483.2 L226.5,483.2 L228.0,483.3 L229.5,483.3 L231.0,483.3 L232.5,483.3 L234.0,483.2 L235.5,483.1 L237.0,483.0 L238.0,482.9 L239.5,482.8 L241.0,482.6 L242.0,482.5 L243.5,482.2 L244.7,482.0 L246.0,481.7 L247.0,481.4 L248.1,481.0 L249.1,480.5 L250.0,479.7 L250.4,478.5 L250.1,477.0 L249.7,476.0 L249.3,475.0 L248.8,474.0 L248.3,473.0 L247.8,472.0 L247.4,471.0 L247.0,470.0 L246.5,468.8 L246.0,467.5 L245.7,466.5 L245.4,465.5 L245.1,464.0 L244.9,463.0 L244.7,461.5 L244.6,460.0 L244.6,458.5 L244.6,457.0 L244.7,455.5 L244.9,454.0 L245.1,453.0 L245.5,451.5 L245.8,450.5 L246.1,449.5 L246.5,448.4 L247.0,447.2 L247.5,446.2 L248.0,445.2 L248.5,444.3 L249.0,443.5 L249.6,442.5 L250.4,441.5 L251.0,440.7 L251.5,440.0 L252.4,439.0 L253.0,438.4 L253.8,437.5 L254.5,436.9 L255.4,436.0 L256.0,435.5 L257.0,434.7 L257.9,434.0 L258.6,433.5 L259.5,432.9 L260.5,432.2 L261.5,431.6 L262.5,431.0 L263.4,430.5 L264.3,430.0 L265.3,429.5 L266.3,429.0 L267.5,428.5 L268.5,428.1 L269.5,427.7 L270.5,427.3 L271.5,426.9 L272.8,426.5 L274.0,426.2 L275.0,425.9 L276.4,425.5 L277.5,425.2 L278.6,425.0 L280.0,424.7 L281.4,424.5 L282.5,424.3 L284.0,424.1 L285.1,424.0 L286.5,423.9 L288.0,423.8 L289.5,423.7 L291.0,423.7 L292.5,423.7 L294.0,423.7 L295.5,423.7 L297.0,423.8 L298.5,424.0 L299.5,424.1 L301.0,424.2 L302.5,424.4 L303.5,424.6 L305.0,424.9 L306.0,425.1 L307.5,425.4 L308.5,425.6 L310.0,426.0 L311.0,426.3 L312.0,426.6 L313.4,427.0 L314.5,427.4 L315.5,427.7 L316.5,428.1 L317.5,428.5 L318.7,429.0 L319.9,429.5 L321.0,430.0 L322.0,430.5 L323.0,431.0 L323.9,431.5 L324.8,432.0 L325.7,432.5 L326.5,433.0 L327.5,433.6 L328.5,434.2 L329.5,434.9 L330.4,435.5 L331.1,436.0 L332.0,436.6 L333.0,437.2 L334.0,437.8 L335.0,438.3 L336.0,438.8 L337.0,439.2 L338.0,439.6 L339.2,440.0 L340.5,440.5 L341.5,440.9 L342.5,441.2 L343.5,441.6 L344.6,442.0 L346.0,442.5 L347.0,442.8 L348.0,443.1 L349.2,443.5 L350.5,443.8 L351.5,444.1 L353.0,444.4 L354.0,444.6 L355.5,444.8 L357.0,444.9 L358.5,445.0 L360.0,444.9 L361.5,444.9 L363.0,444.7 L364.3,444.5 L365.5,444.3 L366.7,444.0 L368.0,443.7 L369.0,443.4 L370.2,443.0 L371.5,442.5 L372.5,442.2 L373.5,441.8 L374.5,441.3 L375.5,440.9 L376.5,440.4 L377.5,439.9 L378.5,439.4 L379.5,438.8 L380.5,438.3 L381.5,437.7 L382.5,437.0 L383.4,436.5 L384.1,436.0 L385.0,435.4 L386.0,434.7 L386.9,434.0 L387.5,433.5 L388.5,432.7 L389.4,432.0 L390.0,431.4 L391.0,430.5 L391.6,430.0 L392.5,429.1 L393.1,428.5 L394.0,427.6 L394.6,427.0 L395.5,426.0 L396.0,425.4 L396.8,424.5 L397.5,423.7 L398.1,423.0 L398.9,422.0 L399.5,421.3 L400.2,420.5 L401.0,419.5 L401.5,418.9 L402.3,418.0 L403.0,417.2 L403.7,416.5 L404.5,415.6 L405.1,415.0 L406.0,414.1 L406.6,413.5 L407.5,412.6 L408.2,412.0 L409.0,411.3 L410.0,410.5 L410.7,410.0 L411.5,409.4 L412.5,408.7 L413.5,408.0 L414.4,407.5 L415.2,407.0 L416.1,406.5 L417.1,406.0 L418.2,405.5 L419.3,405.0 L420.5,404.5 L421.5,404.2 L422.5,403.9 L423.7,403.5 L425.0,403.2 L426.0,402.9 L427.5,402.7 L428.5,402.5 L430.0,402.3 L431.5,402.2 L433.0,402.1 L434.5,402.1 L436.0,402.2 L437.5,402.3 L438.9,402.5 L440.0,402.7 L441.5,403.0 L442.5,403.2 L443.5,403.5 L445.0,404.0 L446.0,404.3 L447.0,404.8 L448.0,405.2 L449.0,405.7 L450.0,406.2 L451.0,406.8 L452.0,407.5 L452.7,408.0 L453.5,408.6 L454.5,409.5 L455.0,410.0 L456.0,411.0 L456.5,411.6 L457.2,412.5 L457.9,413.5 L458.5,414.4 L459.0,415.3 L459.5,416.4 L459.9,417.5 L460.3,418.5 L460.5,419.5 L460.8,421.0 L461.0,422.5 L461.0,424.0 L460.9,425.5 L460.7,427.0 L460.5,428.2 L460.2,429.5 L459.9,430.5 L459.5,431.7 L459.0,433.0 L458.6,434.0 L458.1,435.0 L457.6,436.0 L457.1,437.0 L456.6,438.0 L456.0,439.0 L455.5,440.0 L455.0,440.8 L454.5,441.7 L454.0,442.6 L453.5,443.5 L452.9,444.5 L452.4,445.5 L451.8,446.5 L451.3,447.5 L450.8,448.5 L450.4,449.5 L449.9,450.5 L449.5,451.5 L449.0,452.6 L448.5,453.9 L448.1,455.0 L447.7,456.0 L447.4,457.0 L447.0,458.0 L446.5,459.5 L446.1,460.5 L445.8,461.5 L445.4,462.5 L445.0,463.6 L444.5,464.9 L444.0,466.0 L443.6,467.0 L443.1,468.0 L442.6,469.0 L442.1,470.0 L441.5,471.0 L441.0,471.8 L440.5,472.6 L439.9,473.5 L439.1,474.5 L438.5,475.3 L437.9,476.0 L437.0,477.0 L436.5,477.5 L435.5,478.5 L435.0,479.0 L434.0,479.9 L433.3,480.5 L432.5,481.2 L431.5,481.9 L430.7,482.5 L430.0,483.0 L429.0,483.7 L428.0,484.3 L427.0,484.9 L426.0,485.5 L425.0,486.0 L424.1,486.5 L423.2,487.0 L422.4,487.5 L421.5,488.1 L420.5,488.7 L419.5,489.4 L418.5,490.0 L417.6,490.5 L416.7,491.0 L415.7,491.5 L414.7,492.0 L413.5,492.5 L412.5,492.9 L411.5,493.3 L410.5,493.6 L409.4,494.0 L408.0,494.4 L407.0,494.7 L405.5,495.0 L404.5,495.2 L403.0,495.4 L402.0,495.6 L400.5,495.7 L399.0,495.9 L397.5,495.9 L396.0,496.0 L394.5,495.9 L393.0,495.9 L391.5,495.8 L390.0,495.6 L389.0,495.5 L387.5,495.2 L386.1,495.0 L385.0,494.8 L383.5,494.5 L382.5,494.4 L381.0,494.1 L380.0,494.0 L378.5,493.8 L377.0,493.6 L376.0,493.4 L374.5,493.2 L373.5,493.0 L372.0,492.7 L371.0,492.5 L369.5,492.2 L368.5,491.9 L367.0,491.6 L366.0,491.3 L364.9,491.0 L363.5,490.6 L362.5,490.3 L361.3,490.0 L360.0,489.6 L359.0,489.3 L357.9,489.0 L356.5,488.6 L355.5,488.3 L354.2,488.0 L353.0,487.7 L352.0,487.5 L350.5,487.1 L349.5,487.0 L348.0,486.7 L346.5,486.5 L345.5,486.4 L344.0,486.3 L342.5,486.3 L341.0,486.3 L339.5,486.4 L338.4,486.5 L337.0,486.7 L336.0,487.0 L334.8,487.5 L333.8,488.0 L332.8,488.5 L332.0,489.0 L331.0,489.6 L330.0,490.2 L329.0,490.7 L328.0,491.3 L327.0,491.8 L326.0,492.3 L325.0,492.8 L324.0,493.3 L323.0,493.7 L322.0,494.1 L321.0,494.5 L319.6,495.0 L318.5,495.4 L317.5,495.7 L316.4,496.0 L315.0,496.4 L314.0,496.6 L312.5,497.0 L311.5,497.2 L310.0,497.5 L309.0,497.6 L307.5,497.9 L306.5,498.0 L305.0,498.2 L303.5,498.4 L302.0,498.5 L301.0,498.6 L299.5,498.7 L298.0,498.8 L296.5,499.0 L295.5,499.1 L294.0,499.2 L292.5,499.5 L291.5,499.7 L290.3,500.0 L289.0,500.4 L288.0,500.9 L287.0,501.4 L286.0,502.0 L285.4,502.5 L284.5,503.3 L283.8,504.0 L283.1,505.0 L282.5,505.9 L282.0,506.9 L281.5,508.0 L281.1,509.0 L280.8,510.0 L280.4,511.0 L280.0,512.3 L279.6,513.5 L279.3,514.5 L279.0,515.5 L278.6,517.0 L278.4,518.0 L278.1,519.5 L277.9,520.5 L277.6,522.0 L277.4,523.0 L277.0,524.1 L276.5,525.5 L276.0,526.5 L275.5,527.5 L275.0,528.3 L274.5,529.1 L273.8,530.0 L273.0,531.0 L272.5,531.5 L271.5,532.5 L271.0,533.0 L270.0,533.8 L269.1,534.5 L268.4,535.0 L267.5,535.6 L266.5,536.2 L265.5,536.7 L264.5,537.2 L263.5,537.7 L262.5,538.2 L261.5,538.6 L260.4,539.0 L259.0,539.5 L258.0,539.8 L257.0,540.1 L255.5,540.5 L254.5,540.7 L253.1,541.0 L252.0,541.2 L250.5,541.4 L249.5,541.6 L248.0,541.8 L246.5,541.9 L245.1,542.0"/><path d="M303.5,493.5 L302.0,493.6 L300.5,493.6 L299.0,493.6 L297.5,493.6 L296.0,493.6 L295.0,493.5 L293.5,493.4 L292.0,493.2 L290.5,493.0 L289.5,492.9 L288.0,492.6 L287.0,492.5 L285.5,492.1 L284.5,491.9 L283.0,491.6 L282.0,491.3 L281.0,491.0 L279.5,490.6 L278.5,490.2 L277.5,489.9 L276.5,489.5 L275.2,489.0 L274.1,488.5 L273.0,488.0 L272.0,487.5 L271.0,487.0 L270.0,486.5 L269.2,486.0 L268.3,485.5 L267.5,485.0 L266.5,484.3 L265.5,483.6 L264.7,483.0 L264.0,482.5 L263.0,481.7 L262.2,481.0 L261.5,480.4 L260.6,479.5 L260.0,478.9 L259.1,478.0 L258.5,477.4 L257.8,476.5 L257.0,475.6 L256.5,474.9 L255.8,474.0 L255.2,473.0 L254.5,472.0 L254.0,471.1 L253.5,470.1 L253.0,469.1 L252.5,468.0 L252.1,467.0 L251.8,466.0 L251.5,464.9 L251.2,463.5 L251.0,462.5 L250.8,461.0 L250.7,459.5 L250.7,458.0 L250.8,456.5 L250.9,455.0 L251.1,454.0 L251.5,452.5 L251.8,451.5 L252.1,450.5 L252.5,449.5 L253.0,448.5 L253.5,447.5 L254.0,446.5 L254.7,445.5 L255.3,444.5 L256.0,443.6 L256.5,443.0 L257.4,442.0 L258.0,441.3 L258.8,440.5 L259.5,439.8 L260.4,439.0 L261.0,438.5 L262.0,437.7 L263.0,437.0 L263.7,436.5 L264.5,436.0 L265.5,435.4 L266.5,434.8 L267.5,434.2 L268.5,433.7 L269.5,433.2 L270.5,432.8 L271.5,432.4 L272.5,432.0 L273.8,431.5 L275.0,431.1 L276.0,430.8 L277.0,430.5 L278.5,430.1 L279.5,429.8 L281.0,429.5 L282.0,429.3 L283.5,429.1 L284.5,428.9 L286.0,428.7 L287.5,428.6 L288.7,428.5 L290.0,428.4 L291.5,428.4 L293.0,428.4 L294.5,428.4 L296.0,428.4 L297.1,428.5 L298.5,428.6 L300.0,428.8 L301.5,428.9 L302.5,429.1 L304.0,429.3 L305.0,429.5 L306.5,429.8 L307.5,430.1 L309.0,430.4 L310.0,430.7 L311.0,431.0 L312.5,431.5 L313.5,431.8 L314.5,432.2 L315.5,432.5 L316.7,433.0 L317.8,433.5 L318.9,434.0 L320.0,434.5 L321.0,435.0 L321.9,435.5 L322.8,436.0 L323.7,436.5 L324.5,437.0 L325.5,437.6 L326.5,438.3 L327.5,439.0 L328.1,439.5 L329.0,440.2 L330.0,441.0 L330.6,441.5 L331.5,442.3 L332.3,443.0 L333.0,443.6 L333.9,444.5 L334.5,445.0 L335.5,445.9 L336.3,446.5 L337.0,447.0 L338.0,447.7 L339.0,448.3 L340.0,448.8 L341.0,449.4 L342.0,449.9 L343.0,450.4 L344.0,451.0 L345.0,451.4 L346.0,451.9 L347.0,452.4 L348.0,452.8 L349.0,453.1 L350.1,453.5 L351.5,453.9 L352.5,454.1 L354.0,454.3 L355.5,454.4 L357.0,454.4 L358.5,454.3 L360.0,454.1 L361.0,453.9 L362.5,453.5 L363.5,453.3 L364.5,453.0 L366.0,452.5 L367.0,452.1 L368.0,451.8 L369.0,451.4 L370.0,451.0 L371.1,450.5 L372.2,450.0 L373.2,449.5 L374.3,449.0 L375.3,448.5 L376.3,448.0 L377.2,447.5 L378.1,447.0 L379.1,446.5 L380.0,446.0 L381.0,445.4 L382.0,444.8 L383.0,444.2 L384.0,443.6 L385.0,443.0 L385.8,442.5 L386.6,442.0 L387.5,441.4 L388.5,440.7 L389.5,440.1 L390.3,439.5 L391.0,439.0 L392.0,438.3 L393.0,437.5 L393.6,437.0 L394.5,436.3 L395.4,435.5 L396.0,435.0 L397.0,434.1 L397.7,433.5 L398.5,432.7 L399.2,432.0 L400.0,431.2 L400.6,430.5 L401.5,429.5 L402.0,429.0 L402.8,428.0 L403.5,427.2 L404.1,426.5 L404.9,425.5 L405.5,424.8 L406.1,424.0 L406.9,423.0 L407.5,422.3 L408.2,421.5 L409.0,420.6 L409.5,420.0 L410.4,419.0 L411.0,418.4 L411.9,417.5 L412.5,416.9 L413.5,416.0 L414.1,415.5 L415.0,414.8 L416.0,414.0 L416.7,413.5 L417.5,413.0 L418.5,412.4 L419.5,411.8 L420.5,411.3 L421.5,410.8 L422.5,410.4 L423.5,410.0 L425.0,409.5 L426.0,409.2 L427.0,409.0 L428.5,408.7 L429.5,408.5 L431.0,408.3 L432.5,408.3 L434.0,408.3 L435.5,408.3 L436.9,408.5 L438.0,408.7 L439.5,409.0 L440.5,409.3 L441.5,409.6 L442.6,410.0 L443.7,410.5 L444.7,411.0 L445.6,411.5 L446.5,412.1 L447.5,412.8 L448.3,413.5 L449.0,414.2 L449.8,415.0 L450.5,415.9 L451.0,416.7 L451.5,417.5 L452.0,418.5 L452.5,419.8 L452.9,421.0 L453.1,422.0 L453.2,423.5 L453.2,425.0 L453.1,426.5 L452.9,427.5 L452.6,429.0 L452.3,430.0 L452.0,431.0 L451.5,432.1 L451.0,433.3 L450.5,434.3 L450.0,435.3 L449.5,436.2 L449.0,437.2 L448.5,438.0 L447.9,439.0 L447.4,440.0 L446.8,441.0 L446.2,442.0 L445.6,443.0 L445.1,444.0 L444.6,445.0 L444.1,446.0 L443.6,447.0 L443.1,448.0 L442.7,449.0 L442.3,450.0 L441.9,451.0 L441.5,452.2 L441.1,453.5 L440.8,454.5 L440.4,455.5 L440.0,457.0 L439.7,458.0 L439.4,459.0 L439.0,460.2 L438.6,461.5 L438.2,462.5 L437.8,463.5 L437.4,464.5 L437.0,465.5 L436.5,466.6 L436.0,467.6 L435.5,468.5 L434.9,469.5 L434.3,470.5 L433.6,471.5 L433.0,472.2 L432.4,473.0 L431.5,474.0 L431.0,474.6 L430.1,475.5 L429.5,476.0 L428.5,476.9 L427.8,477.5 L427.0,478.1 L426.0,478.9 L425.1,479.5 L424.3,480.0 L423.5,480.5 L422.5,481.1 L421.5,481.7 L420.5,482.3 L419.5,482.9 L418.6,483.5 L417.9,484.0 L417.0,484.6 L416.0,485.3 L415.0,485.9 L414.0,486.5 L413.0,487.0 L412.0,487.5 L411.0,488.0 L410.0,488.4 L409.0,488.7 L408.0,489.1 L406.6,489.5 L405.5,489.8 L404.5,490.0 L403.0,490.3 L402.0,490.5 L400.5,490.7 L399.0,490.8 L397.5,490.9 L396.0,491.0 L394.5,490.9 L393.0,490.8 L391.5,490.7 L390.0,490.5 L389.0,490.3 L387.5,490.0 L386.5,489.8 L385.4,489.5 L384.0,489.1 L383.0,488.8 L382.0,488.4 L380.8,488.0 L379.5,487.5 L378.5,487.2 L377.5,486.9 L376.1,486.5 L375.0,486.2 L374.0,485.9 L372.7,485.5 L371.5,485.1 L370.5,484.8 L369.5,484.4 L368.4,484.0 L367.1,483.5 L366.0,483.1 L365.0,482.7 L364.0,482.2 L363.0,481.8 L362.0,481.3 L361.0,480.9 L360.0,480.5 L359.0,480.0 L357.8,479.5 L356.6,479.0 L355.5,478.5 L354.5,478.2 L353.5,477.8 L352.5,477.5 L351.0,477.1 L350.0,476.9 L348.5,476.6 L347.0,476.5 L346.0,476.5 L344.5,476.5 L343.5,476.5 L342.0,476.7 L340.5,477.0 L339.5,477.2 L338.5,477.7 L337.5,478.2 L336.5,479.0 L335.9,479.5 L335.0,480.2 L334.2,481.0 L333.5,481.6 L332.5,482.5 L331.9,483.0 L331.0,483.7 L330.0,484.5 L329.3,485.0 L328.5,485.6 L327.5,486.2 L326.5,486.8 L325.5,487.4 L324.5,487.9 L323.5,488.4 L322.5,488.9 L321.5,489.3 L320.5,489.8 L319.5,490.1 L318.5,490.5 L317.0,491.0 L316.0,491.3 L315.0,491.6 L313.5,492.0 L312.5,492.2 L311.2,492.5 L310.0,492.7 L308.5,493.0 L307.5,493.1 L306.0,493.3 L304.5,493.4 L303.5,493.5"/><path d="M248.0,537.0 L246.5,537.2 L245.0,537.3 L243.5,537.4 L242.0,537.4 L240.5,537.4 L239.0,537.4 L237.5,537.3 L236.0,537.2 L234.5,537.1 L233.5,537.0 L232.0,536.7 L230.5,536.5 L229.5,536.3 L228.0,536.0 L227.0,535.8 L226.0,535.5 L224.5,535.1 L223.5,534.8 L222.5,534.5 L221.1,534.0 L220.0,533.6 L219.0,533.2 L218.0,532.8 L217.0,532.3 L216.0,531.9 L215.0,531.4 L214.0,530.8 L213.0,530.3 L212.0,529.7 L211.0,529.0 L210.2,528.5 L209.5,528.0 L208.5,527.2 L207.6,526.5 L207.0,525.9 L206.0,525.0 L205.5,524.5 L204.6,523.5 L204.0,522.8 L203.4,522.0 L202.7,521.0 L202.1,520.0 L201.6,519.0 L201.2,518.0 L200.8,517.0 L200.5,516.0 L200.2,514.5 L200.1,513.0 L200.2,511.5 L200.4,510.0 L200.7,509.0 L201.0,507.9 L201.5,506.5 L201.8,505.5 L201.9,504.0 L201.6,502.5 L201.3,501.5 L201.0,500.3 L200.7,499.0 L200.6,497.5 L200.8,496.0 L201.1,495.0 L201.5,494.0 L202.1,493.0 L203.0,492.0 L203.6,491.5 L204.5,490.9 L205.5,490.4 L206.5,490.0 L208.0,489.6 L209.0,489.4 L210.5,489.3 L212.0,489.2 L213.5,489.3 L215.0,489.5 L216.0,489.6 L217.5,489.8 L219.0,490.0 L220.0,490.2 L221.5,490.4 L222.5,490.5 L224.0,490.7 L225.5,490.9 L226.5,491.0 L228.0,491.2 L229.5,491.3 L231.0,491.4 L232.0,491.5 L233.5,491.6 L235.0,491.7 L236.5,491.9 L238.0,492.0 L239.0,492.1 L240.5,492.3 L242.0,492.5 L243.0,492.6 L244.5,492.9 L245.5,493.1 L247.0,493.5 L248.0,493.7 L249.0,494.0 L250.4,494.5 L251.5,494.9 L252.5,495.3 L253.5,495.8 L254.5,496.3 L255.5,496.9 L256.5,497.5 L257.2,498.0 L258.0,498.7 L259.0,499.5 L259.5,500.0 L260.5,500.9 L261.0,501.5 L262.0,502.5 L262.5,503.0 L263.4,504.0 L264.0,504.7 L264.7,505.5 L265.5,506.4 L266.0,507.0 L266.8,508.0 L267.5,509.0 L268.0,509.7 L268.5,510.5 L269.1,511.5 L269.6,512.5 L270.1,513.5 L270.5,514.6 L270.9,516.0 L271.1,517.0 L271.3,518.5 L271.3,520.0 L271.1,521.5 L270.9,522.5 L270.5,523.7 L270.0,524.8 L269.5,525.8 L269.0,526.6 L268.3,527.5 L267.5,528.5 L267.0,529.0 L266.0,529.9 L265.3,530.5 L264.5,531.1 L263.5,531.8 L262.5,532.4 L261.5,533.0 L260.5,533.5 L259.5,534.0 L258.5,534.4 L257.5,534.8 L256.5,535.1 L255.3,535.5 L254.0,535.9 L253.0,536.1 L251.5,536.5 L250.5,536.6 L249.0,536.9 L248.0,537.0"/><path d="M401.0,485.6 L399.5,485.8 L398.0,485.9 L396.5,485.9 L395.0,485.9 L393.5,485.8 L392.0,485.7 L390.6,485.5 L389.5,485.3 L388.2,485.0 L387.0,484.7 L386.0,484.4 L385.0,484.0 L383.7,483.5 L382.6,483.0 L381.6,482.5 L380.7,482.0 L379.9,481.5 L379.0,480.9 L378.0,480.3 L377.0,479.6 L376.2,479.0 L375.5,478.5 L374.5,477.7 L373.5,477.0 L372.8,476.5 L372.0,475.8 L371.0,475.0 L370.5,474.5 L369.5,473.5 L369.0,472.9 L368.4,472.0 L367.8,471.0 L367.4,470.0 L367.0,468.5 L367.0,467.7 L367.1,466.5 L367.5,465.4 L368.0,464.3 L368.5,463.5 L369.3,462.5 L370.0,461.7 L370.6,461.0 L371.5,460.2 L372.2,459.5 L373.0,458.8 L374.0,458.0 L374.6,457.5 L375.5,456.8 L376.5,456.1 L377.3,455.5 L378.0,455.0 L379.0,454.3 L380.0,453.6 L380.9,453.0 L381.6,452.5 L382.5,451.9 L383.5,451.3 L384.5,450.6 L385.4,450.0 L386.2,449.5 L387.0,449.0 L388.0,448.3 L389.0,447.7 L390.0,447.0 L390.8,446.5 L391.6,446.0 L392.5,445.4 L393.5,444.8 L394.5,444.1 L395.4,443.5 L396.1,443.0 L397.0,442.4 L398.0,441.7 L399.0,441.0 L399.7,440.5 L400.5,439.9 L401.5,439.2 L402.4,438.5 L403.0,438.0 L404.0,437.1 L404.7,436.5 L405.5,435.8 L406.4,435.0 L407.0,434.4 L407.8,433.5 L408.5,432.8 L409.2,432.0 L410.0,431.1 L410.5,430.5 L411.3,429.5 L412.0,428.6 L412.5,428.0 L413.3,427.0 L414.0,426.1 L414.5,425.5 L415.3,424.5 L416.0,423.7 L416.7,423.0 L417.5,422.2 L418.2,421.5 L419.0,420.8 L419.9,420.0 L420.6,419.5 L421.5,418.8 L422.5,418.2 L423.5,417.6 L424.5,417.2 L425.5,416.7 L426.5,416.3 L427.6,416.0 L429.0,415.7 L430.1,415.5 L431.5,415.4 L433.0,415.3 L434.5,415.3 L436.0,415.3 L437.5,415.5 L438.5,415.8 L439.5,416.2 L440.5,416.8 L441.3,417.5 L442.0,418.3 L442.5,419.0 L443.1,420.0 L443.5,421.0 L444.0,422.3 L444.3,423.5 L444.5,425.0 L444.4,426.5 L444.2,428.0 L444.0,429.0 L443.5,430.5 L443.1,431.5 L442.6,432.5 L442.1,433.5 L441.6,434.5 L441.1,435.5 L440.5,436.5 L440.0,437.3 L439.5,438.2 L439.0,439.0 L438.4,440.0 L437.9,441.0 L437.4,442.0 L436.9,443.0 L436.4,444.0 L436.0,445.0 L435.5,446.2 L435.1,447.5 L434.7,448.5 L434.5,449.5 L434.1,451.0 L433.8,452.0 L433.5,453.5 L433.3,454.5 L433.0,455.8 L432.7,457.0 L432.5,458.0 L432.1,459.5 L431.8,460.5 L431.5,461.5 L431.0,462.9 L430.6,464.0 L430.1,465.0 L429.6,466.0 L429.1,467.0 L428.5,467.9 L428.0,468.7 L427.4,469.5 L426.6,470.5 L426.0,471.2 L425.3,472.0 L424.5,472.8 L423.7,473.5 L423.0,474.1 L422.0,474.9 L421.1,475.5 L420.4,476.0 L419.5,476.5 L418.5,477.2 L417.5,477.7 L416.5,478.4 L415.6,479.0 L414.9,479.5 L414.0,480.1 L413.0,480.9 L412.0,481.5 L411.2,482.0 L410.3,482.5 L409.4,483.0 L408.3,483.5 L407.0,484.0 L406.0,484.4 L405.0,484.7 L403.8,485.0 L402.5,485.3 L401.4,485.5"/><path d="M306.5,488.6 L305.0,488.7 L303.5,488.8 L302.0,488.9 L300.5,488.9 L299.0,488.9 L297.5,488.9 L296.0,488.8 L294.5,488.7 L293.0,488.5 L292.0,488.4 L290.5,488.1 L289.5,488.0 L288.0,487.7 L287.0,487.5 L285.5,487.1 L284.5,486.8 L283.4,486.5 L282.0,486.1 L281.0,485.7 L280.0,485.3 L279.0,485.0 L277.9,484.5 L276.8,484.0 L275.7,483.5 L274.7,483.0 L273.8,482.5 L272.9,482.0 L272.0,481.5 L271.0,480.9 L270.0,480.2 L269.0,479.5 L268.3,479.0 L267.5,478.4 L266.5,477.5 L265.9,477.0 L265.0,476.2 L264.3,475.5 L263.5,474.6 L262.9,474.0 L262.1,473.0 L261.5,472.2 L261.0,471.5 L260.3,470.5 L259.7,469.5 L259.2,468.5 L258.7,467.5 L258.3,466.5 L257.9,465.5 L257.5,464.1 L257.2,463.0 L257.0,461.8 L256.8,460.5 L256.8,459.0 L256.8,457.5 L257.0,456.0 L257.2,455.0 L257.5,453.6 L257.8,452.5 L258.2,451.5 L258.6,450.5 L259.1,449.5 L259.7,448.5 L260.3,447.5 L261.0,446.6 L261.5,445.9 L262.3,445.0 L263.0,444.2 L263.7,443.5 L264.5,442.8 L265.4,442.0 L266.0,441.5 L267.0,440.8 L268.0,440.1 L268.9,439.5 L269.7,439.0 L270.6,438.5 L271.6,438.0 L272.6,437.5 L273.7,437.0 L274.9,436.5 L276.0,436.1 L277.0,435.7 L278.0,435.4 L279.3,435.0 L280.5,434.7 L281.5,434.4 L283.0,434.1 L284.0,433.9 L285.5,433.7 L286.8,433.5 L288.0,433.4 L289.5,433.2 L291.0,433.1 L292.5,433.1 L294.0,433.1 L295.5,433.1 L297.0,433.2 L298.5,433.3 L300.0,433.4 L301.0,433.5 L302.5,433.7 L304.0,434.0 L305.0,434.2 L306.5,434.5 L307.5,434.7 L308.5,435.0 L310.0,435.4 L311.0,435.7 L312.0,436.0 L313.3,436.5 L314.5,437.0 L315.5,437.4 L316.5,437.8 L317.5,438.3 L318.5,438.7 L319.5,439.3 L320.5,439.8 L321.5,440.4 L322.5,441.0 L323.3,441.5 L324.0,442.0 L325.0,442.7 L326.0,443.5 L326.7,444.0 L327.5,444.7 L328.4,445.5 L329.0,446.1 L329.9,447.0 L330.5,447.7 L331.2,448.5 L332.0,449.5 L332.5,450.2 L333.1,451.0 L333.7,452.0 L334.4,453.0 L334.9,454.0 L335.4,455.0 L335.9,456.0 L336.3,457.0 L336.7,458.0 L337.0,459.0 L337.3,460.5 L337.5,461.7 L337.6,463.0 L337.5,464.1 L337.3,465.5 L337.0,466.8 L336.6,468.0 L336.3,469.0 L335.9,470.0 L335.4,471.0 L334.9,472.0 L334.3,473.0 L333.7,474.0 L333.0,475.0 L332.5,475.7 L331.8,476.5 L331.0,477.5 L330.5,478.0 L329.5,478.9 L328.9,479.5 L328.0,480.2 L327.0,481.0 L326.3,481.5 L325.5,482.0 L324.5,482.7 L323.5,483.3 L322.5,483.8 L321.5,484.3 L320.5,484.8 L319.5,485.2 L318.5,485.6 L317.5,486.0 L316.0,486.5 L315.0,486.8 L314.0,487.1 L312.5,487.5 L311.5,487.7 L310.1,488.0 L309.0,488.2 L307.5,488.4 L306.5,488.6"/><path d="M246.0,532.5 L244.5,532.7 L243.0,532.8 L241.5,532.8 L240.0,532.8 L238.5,532.7 L237.0,532.6 L235.8,532.5 L234.5,532.3 L233.0,532.1 L232.0,531.9 L230.5,531.6 L229.5,531.4 L228.0,531.0 L227.0,530.7 L226.0,530.4 L224.7,530.0 L223.5,529.5 L222.5,529.1 L221.5,528.7 L220.5,528.2 L219.5,527.7 L218.5,527.2 L217.5,526.6 L216.5,526.0 L215.8,525.5 L215.0,524.9 L214.0,524.1 L213.3,523.5 L212.5,522.8 L211.8,522.0 L211.0,521.1 L210.5,520.5 L209.8,519.5 L209.3,518.5 L208.8,517.5 L208.4,516.5 L208.0,515.0 L207.9,514.0 L207.9,512.5 L208.1,511.5 L208.5,510.0 L208.9,509.0 L209.5,508.0 L210.0,507.2 L210.5,506.5 L211.4,505.5 L212.0,504.9 L212.9,504.0 L213.5,503.5 L214.5,502.7 L215.5,502.1 L216.5,501.5 L217.5,501.1 L218.5,500.7 L219.5,500.4 L221.0,500.0 L222.0,499.8 L223.5,499.6 L224.5,499.5 L226.0,499.3 L227.5,499.2 L229.0,499.1 L230.5,499.0 L232.0,499.0 L233.5,499.1 L235.0,499.1 L236.5,499.3 L238.0,499.4 L239.0,499.6 L240.5,499.8 L241.5,500.0 L243.0,500.3 L244.0,500.6 L245.5,501.0 L246.5,501.3 L247.5,501.6 L248.5,502.0 L249.8,502.5 L251.0,503.0 L252.0,503.5 L253.0,504.0 L254.0,504.5 L254.9,505.0 L255.7,505.5 L256.5,506.0 L257.5,506.7 L258.5,507.5 L259.2,508.0 L260.0,508.7 L260.8,509.5 L261.5,510.3 L262.1,511.0 L262.8,512.0 L263.5,513.0 L264.0,514.0 L264.4,515.0 L264.7,516.0 L265.0,517.3 L265.1,518.5 L265.0,520.0 L264.8,521.0 L264.5,522.0 L264.0,523.1 L263.5,524.0 L262.8,525.0 L262.0,525.9 L261.4,526.5 L260.5,527.3 L259.5,528.0 L258.8,528.5 L257.9,529.0 L257.0,529.5 L255.9,530.0 L254.7,530.5 L253.5,530.9 L252.5,531.3 L251.5,531.5 L250.0,531.9 L249.0,532.1 L247.5,532.3 L246.3,532.5"/><path d="M305.0,484.0 L303.5,484.1 L302.0,484.2 L300.5,484.2 L299.0,484.2 L297.5,484.1 L296.0,484.0 L295.0,483.9 L293.5,483.7 L292.0,483.5 L291.0,483.3 L289.5,483.0 L288.5,482.8 L287.3,482.5 L286.0,482.1 L285.0,481.8 L284.0,481.5 L282.6,481.0 L281.5,480.6 L280.5,480.1 L279.5,479.7 L278.5,479.2 L277.5,478.7 L276.5,478.2 L275.5,477.6 L274.6,477.0 L273.8,476.5 L273.0,475.9 L272.0,475.1 L271.2,474.5 L270.5,473.9 L269.5,473.0 L269.0,472.5 L268.1,471.5 L267.5,470.8 L266.9,470.0 L266.2,469.0 L265.5,468.0 L265.0,467.1 L264.5,466.1 L264.1,465.0 L263.7,464.0 L263.4,463.0 L263.1,461.5 L263.0,460.5 L262.9,459.0 L263.0,457.5 L263.1,456.5 L263.4,455.0 L263.7,454.0 L264.1,453.0 L264.5,452.0 L265.1,451.0 L265.7,450.0 L266.4,449.0 L267.0,448.3 L267.7,447.5 L268.5,446.7 L269.2,446.0 L270.0,445.3 L271.0,444.6 L271.8,444.0 L272.6,443.5 L273.5,442.9 L274.5,442.4 L275.5,441.9 L276.5,441.4 L277.5,440.9 L278.6,440.5 L280.0,440.0 L281.0,439.7 L282.0,439.4 L283.5,439.0 L284.5,438.8 L286.0,438.5 L287.0,438.3 L288.5,438.1 L289.8,438.0 L291.0,437.9 L292.5,437.8 L294.0,437.8 L295.5,437.8 L297.0,437.8 L298.5,437.9 L299.5,438.0 L301.0,438.2 L302.5,438.4 L303.5,438.6 L305.0,438.8 L306.0,439.1 L307.5,439.4 L308.5,439.7 L309.6,440.0 L311.0,440.5 L312.0,440.8 L313.0,441.2 L314.0,441.6 L315.0,442.0 L316.0,442.5 L317.0,443.0 L318.0,443.5 L319.0,444.1 L320.0,444.7 L321.0,445.3 L322.0,446.0 L322.6,446.5 L323.5,447.2 L324.5,448.0 L325.0,448.5 L326.0,449.4 L326.5,450.0 L327.4,451.0 L328.0,451.7 L328.6,452.5 L329.3,453.5 L329.9,454.5 L330.4,455.5 L330.8,456.5 L331.2,457.5 L331.6,458.5 L331.9,460.0 L332.1,461.0 L332.2,462.5 L332.2,464.0 L332.0,465.5 L331.8,466.5 L331.5,467.7 L331.0,469.0 L330.6,470.0 L330.0,471.0 L329.5,471.9 L329.0,472.6 L328.3,473.5 L327.5,474.4 L326.9,475.0 L326.0,475.9 L325.3,476.5 L324.5,477.1 L323.5,477.9 L322.6,478.5 L321.7,479.0 L320.9,479.5 L319.9,480.0 L318.9,480.5 L317.7,481.0 L316.5,481.5 L315.5,481.9 L314.5,482.2 L313.4,482.5 L312.0,482.9 L311.0,483.1 L309.5,483.4 L308.5,483.6 L307.0,483.8 L305.5,484.0"/><path d="M400.5,480.5 L399.0,480.7 L397.5,480.9 L396.0,480.9 L394.5,480.9 L393.0,480.7 L391.5,480.5 L390.5,480.3 L389.2,480.0 L388.0,479.6 L387.0,479.3 L386.0,478.8 L385.0,478.3 L384.0,477.8 L383.0,477.1 L382.2,476.5 L381.5,475.9 L380.6,475.0 L380.0,474.3 L379.4,473.5 L378.8,472.5 L378.4,471.5 L378.0,470.3 L377.7,469.0 L377.7,467.5 L377.9,466.0 L378.2,465.0 L378.6,464.0 L379.1,463.0 L379.8,462.0 L380.5,461.1 L381.1,460.5 L382.0,459.7 L382.8,459.0 L383.5,458.5 L384.5,457.9 L385.5,457.3 L386.5,456.8 L387.5,456.3 L388.5,455.7 L389.5,455.2 L390.5,454.6 L391.4,454.0 L392.2,453.5 L393.0,452.9 L394.0,452.3 L395.0,451.6 L396.0,451.0 L396.8,450.5 L397.7,450.0 L398.5,449.5 L399.5,448.9 L400.5,448.4 L401.5,447.8 L402.5,447.3 L403.5,446.8 L404.5,446.3 L405.5,445.8 L406.5,445.3 L407.5,444.9 L408.5,444.4 L409.5,443.9 L410.5,443.5 L411.7,443.0 L412.9,442.5 L414.0,442.1 L415.0,441.7 L416.0,441.4 L417.5,441.0 L418.5,440.9 L420.0,440.9 L421.0,441.2 L422.0,442.0 L422.5,442.8 L423.0,443.9 L423.4,445.0 L423.6,446.0 L423.9,447.5 L424.1,448.5 L424.3,450.0 L424.5,451.5 L424.5,452.5 L424.6,454.0 L424.6,455.5 L424.5,456.6 L424.4,458.0 L424.1,459.5 L423.9,460.5 L423.5,461.7 L423.0,463.0 L422.6,464.0 L422.1,465.0 L421.5,466.0 L421.0,466.7 L420.4,467.5 L419.5,468.5 L419.0,469.0 L418.0,470.0 L417.4,470.5 L416.5,471.2 L415.5,471.9 L414.6,472.5 L413.9,473.0 L413.0,473.7 L412.1,474.5 L411.5,475.0 L410.5,475.9 L409.8,476.5 L409.0,477.1 L408.0,477.8 L407.0,478.3 L406.0,478.8 L405.0,479.3 L404.0,479.6 L402.8,480.0 L401.5,480.3 L400.5,480.5"/><path d="M244.0,528.0 L242.5,528.1 L241.0,528.1 L239.5,528.1 L238.1,528.0 L237.0,527.9 L235.5,527.7 L234.2,527.5 L233.0,527.3 L231.8,527.0 L230.5,526.7 L229.5,526.4 L228.4,526.0 L227.1,525.5 L226.0,525.1 L225.0,524.6 L224.0,524.1 L223.0,523.5 L222.1,523.0 L221.4,522.5 L220.5,521.8 L219.5,521.0 L219.0,520.5 L218.1,519.5 L217.5,518.8 L217.0,518.0 L216.5,517.0 L216.0,515.7 L215.8,514.5 L215.8,513.0 L216.0,512.0 L216.5,510.9 L217.0,510.0 L217.8,509.0 L218.5,508.3 L219.5,507.5 L220.3,507.0 L221.2,506.5 L222.2,506.0 L223.4,505.5 L224.5,505.1 L225.5,504.9 L227.0,504.5 L228.0,504.3 L229.5,504.1 L230.6,504.0 L232.0,503.9 L233.5,503.9 L235.0,503.9 L236.5,504.0 L237.5,504.1 L239.0,504.3 L240.4,504.5 L241.5,504.7 L242.8,505.0 L244.0,505.3 L245.0,505.6 L246.2,506.0 L247.5,506.5 L248.5,506.9 L249.5,507.3 L250.5,507.8 L251.5,508.4 L252.5,509.0 L253.2,509.5 L254.0,510.1 L255.0,510.9 L255.6,511.5 L256.5,512.4 L257.0,513.1 L257.6,514.0 L258.1,515.0 L258.5,516.0 L258.8,517.5 L258.8,519.0 L258.5,520.2 L258.0,521.3 L257.5,522.1 L256.8,523.0 L256.0,523.8 L255.1,524.5 L254.3,525.0 L253.5,525.5 L252.5,526.0 L251.2,526.5 L250.0,526.9 L249.0,527.2 L247.7,527.5 L246.5,527.7 L245.0,527.9 L244.0,528.0"/><path d="M302.0,479.5 L300.5,479.5 L299.5,479.5 L298.0,479.4 L296.5,479.3 L295.0,479.1 L294.0,479.0 L292.5,478.7 L291.5,478.5 L290.0,478.1 L289.0,477.9 L287.7,477.5 L286.5,477.1 L285.5,476.8 L284.5,476.4 L283.5,476.0 L282.5,475.5 L281.4,475.0 L280.5,474.5 L279.5,474.0 L278.5,473.3 L277.5,472.7 L276.6,472.0 L275.9,471.5 L275.0,470.7 L274.2,470.0 L273.5,469.2 L272.8,468.5 L272.0,467.5 L271.5,466.7 L271.0,465.9 L270.5,465.0 L270.0,463.9 L269.5,462.5 L269.3,461.5 L269.1,460.0 L269.0,458.5 L269.2,457.0 L269.5,455.9 L270.0,454.5 L270.5,453.5 L271.0,452.6 L271.5,451.9 L272.2,451.0 L273.0,450.1 L273.6,449.5 L274.5,448.7 L275.5,448.0 L276.2,447.5 L277.0,447.0 L278.0,446.4 L279.0,445.9 L280.0,445.4 L281.0,445.0 L282.4,444.5 L283.5,444.1 L284.5,443.9 L286.0,443.5 L287.0,443.3 L288.5,443.0 L289.5,442.9 L291.0,442.7 L292.5,442.6 L294.0,442.5 L295.0,442.5 L296.4,442.5 L297.5,442.5 L299.0,442.6 L300.5,442.8 L302.0,443.0 L303.0,443.1 L304.5,443.4 L305.5,443.6 L307.0,444.0 L308.0,444.3 L309.0,444.6 L310.4,445.0 L311.5,445.4 L312.5,445.8 L313.5,446.2 L314.5,446.7 L315.5,447.2 L316.5,447.8 L317.5,448.3 L318.5,449.0 L319.2,449.5 L320.0,450.1 L321.0,450.9 L321.7,451.5 L322.5,452.2 L323.2,453.0 L324.0,453.9 L324.5,454.5 L325.2,455.5 L325.8,456.5 L326.3,457.5 L326.7,458.5 L327.0,459.5 L327.3,461.0 L327.5,462.5 L327.4,464.0 L327.2,465.5 L326.9,466.5 L326.5,467.5 L326.0,468.6 L325.4,469.5 L324.7,470.5 L324.0,471.4 L323.4,472.0 L322.5,472.9 L321.7,473.5 L321.0,474.0 L320.0,474.7 L319.0,475.3 L318.0,475.9 L317.0,476.3 L316.0,476.8 L315.0,477.2 L314.0,477.5 L312.5,478.0 L311.5,478.3 L310.5,478.5 L309.0,478.8 L307.9,479.0 L306.5,479.2 L305.0,479.4 L303.5,479.5 L302.3,479.5"/><path d="M397.0,475.5 L395.5,475.5 L394.5,475.5 L393.0,475.3 L391.6,475.0 L390.5,474.7 L389.5,474.3 L388.5,473.9 L387.5,473.3 L386.5,472.5 L385.9,472.0 L385.1,471.0 L384.6,470.0 L384.3,469.0 L384.2,467.5 L384.5,466.2 L385.0,465.2 L385.5,464.5 L386.5,463.5 L387.1,463.0 L388.0,462.4 L389.0,461.9 L390.0,461.5 L391.5,461.0 L392.5,460.8 L393.7,460.5 L395.0,460.3 L396.5,460.1 L397.5,460.0 L399.0,459.7 L400.3,459.5 L401.5,459.2 L402.5,459.0 L404.0,458.5 L405.0,458.3 L406.5,458.1 L408.0,458.3 L409.0,458.8 L409.7,459.5 L410.1,460.5 L410.1,462.0 L409.7,463.0 L409.4,464.0 L409.0,465.1 L408.6,466.5 L408.4,467.5 L408.0,468.8 L407.5,470.0 L407.0,470.9 L406.5,471.5 L405.5,472.5 L404.9,473.0 L404.0,473.6 L403.0,474.1 L402.0,474.5 L400.5,475.0 L399.5,475.2 L398.0,475.4 L397.0,475.5"/><path d="M242.5,523.0 L241.0,523.1 L239.5,523.0 L238.5,522.9 L237.0,522.8 L235.5,522.5 L234.5,522.3 L233.3,522.0 L232.0,521.6 L231.0,521.2 L230.0,520.8 L229.0,520.4 L228.0,519.8 L227.0,519.2 L226.1,518.5 L225.5,517.9 L224.8,517.0 L224.2,516.0 L223.9,515.0 L224.0,513.8 L224.5,512.6 L225.0,511.9 L226.0,511.0 L226.9,510.5 L228.0,510.0 L229.0,509.7 L230.0,509.4 L231.5,509.2 L233.0,509.0 L234.0,509.0 L235.5,509.0 L236.6,509.0 L238.0,509.1 L239.5,509.3 L240.5,509.5 L242.0,509.8 L243.0,510.1 L244.3,510.5 L245.5,511.0 L246.5,511.4 L247.5,511.9 L248.5,512.5 L249.3,513.0 L250.0,513.6 L250.9,514.5 L251.5,515.3 L252.0,516.4 L252.2,517.5 L252.0,518.6 L251.5,519.6 L250.7,520.5 L250.0,521.0 L249.0,521.6 L248.0,522.0 L246.5,522.5 L245.5,522.7 L244.0,522.9 L242.9,523.0"/><path d="M306.5,474.5 L305.0,474.7 L303.5,474.8 L302.0,474.8 L300.5,474.8 L299.0,474.7 L297.5,474.6 L296.5,474.5 L295.0,474.2 L293.7,474.0 L292.5,473.7 L291.5,473.5 L290.0,473.1 L289.0,472.8 L288.0,472.4 L287.0,472.0 L285.8,471.5 L284.7,471.0 L283.8,470.5 L282.9,470.0 L282.0,469.4 L281.0,468.7 L280.0,468.0 L279.5,467.5 L278.5,466.6 L278.0,466.0 L277.2,465.0 L276.5,464.0 L276.0,463.0 L275.6,462.0 L275.4,461.0 L275.2,459.5 L275.3,458.0 L275.5,457.0 L276.0,455.8 L276.5,454.9 L277.1,454.0 L278.0,453.0 L278.6,452.5 L279.5,451.7 L280.5,451.0 L281.4,450.5 L282.3,450.0 L283.4,449.5 L284.5,449.1 L285.5,448.7 L286.5,448.4 L288.0,448.1 L289.0,447.8 L290.5,447.6 L291.5,447.5 L293.0,447.3 L294.5,447.2 L296.0,447.2 L297.5,447.2 L299.0,447.3 L300.5,447.4 L301.5,447.6 L303.0,447.8 L304.2,448.0 L305.5,448.3 L306.5,448.5 L308.0,449.0 L309.0,449.3 L310.0,449.6 L311.0,450.0 L312.1,450.5 L313.2,451.0 L314.1,451.5 L315.0,452.0 L316.0,452.6 L317.0,453.3 L317.9,454.0 L318.5,454.5 L319.5,455.5 L320.0,456.1 L320.7,457.0 L321.4,458.0 L321.9,459.0 L322.3,460.0 L322.5,461.0 L322.7,462.5 L322.6,464.0 L322.4,465.0 L322.0,466.0 L321.5,467.0 L320.8,468.0 L320.0,468.9 L319.4,469.5 L318.5,470.2 L317.5,470.9 L316.5,471.5 L315.6,472.0 L314.5,472.5 L313.5,472.9 L312.5,473.2 L311.5,473.5 L310.0,473.9 L309.0,474.1 L307.5,474.4 L306.5,474.5"/><path d="M306.0,469.5 L304.5,469.7 L303.0,469.7 L301.5,469.7 L300.0,469.6 L298.6,469.5 L297.5,469.4 L296.0,469.1 L295.0,468.9 L293.5,468.6 L292.5,468.3 L291.4,468.0 L290.0,467.5 L289.0,467.1 L288.0,466.6 L287.0,466.1 L286.0,465.5 L285.2,465.0 L284.5,464.4 L283.5,463.5 L283.0,462.9 L282.4,462.0 L282.0,461.0 L281.7,459.5 L282.0,458.1 L282.5,457.1 L283.0,456.4 L284.0,455.5 L284.7,455.0 L285.6,454.5 L286.6,454.0 L288.0,453.5 L289.0,453.2 L290.0,453.0 L291.5,452.7 L292.7,452.5 L294.0,452.4 L295.5,452.3 L297.0,452.3 L298.5,452.3 L300.0,452.4 L301.0,452.6 L302.5,452.8 L303.8,453.0 L305.0,453.3 L306.0,453.5 L307.5,453.9 L308.5,454.3 L309.5,454.7 L310.5,455.1 L311.5,455.6 L312.5,456.1 L313.5,456.7 L314.5,457.5 L315.1,458.0 L316.0,458.9 L316.5,459.6 L317.0,460.5 L317.4,462.0 L317.3,463.5 L316.9,464.5 L316.2,465.5 L315.5,466.2 L314.5,467.0 L313.6,467.5 L312.5,468.0 L311.5,468.4 L310.5,468.7 L309.3,469.0 L308.0,469.3 L306.5,469.5"/><path d="M235.0,407.0 L233.5,407.2 L232.0,407.3 L230.5,407.3 L229.0,407.3 L227.5,407.3 L226.0,407.3 L224.5,407.2 L223.0,407.1 L222.0,406.9 L220.5,406.7 L219.0,406.5 L218.0,406.3 L216.5,406.0 L215.5,405.8 L214.3,405.5 L213.0,405.1 L212.0,404.9 L210.9,404.5 L209.5,404.0 L208.5,403.7 L207.5,403.3 L206.5,402.9 L205.5,402.5 L204.4,402.0 L203.3,401.5 L202.3,401.0 L201.3,400.5 L200.4,400.0 L199.5,399.5 L198.5,398.9 L197.5,398.3 L196.5,397.7 L195.5,397.1 L194.6,396.5 L193.9,396.0 L193.0,395.4 L192.0,394.6 L191.2,394.0 L190.5,393.5 L189.5,392.7 L188.7,392.0 L188.0,391.4 L187.0,390.6 L186.4,390.0 L185.5,389.2 L184.8,388.5 L184.0,387.7 L183.3,387.0 L182.5,386.1 L181.9,385.5 L181.1,384.5 L180.5,383.8 L179.9,383.0 L179.1,382.0 L178.5,381.2 L178.0,380.5 L177.4,379.5 L176.7,378.5 L176.2,377.5 L175.6,376.5 L175.1,375.5 L174.6,374.5 L174.2,373.5 L173.8,372.5 L173.4,371.5 L173.0,370.2 L172.7,369.0 L172.4,368.0 L172.1,366.5 L172.0,365.5 L171.8,364.0 L171.7,362.5 L171.6,361.0 L171.7,359.5 L171.8,358.0 L172.0,356.5 L172.1,355.5 L172.4,354.0 L172.7,353.0 L173.0,351.9 L173.5,350.5 L173.8,349.5 L174.2,348.5 L174.7,347.5 L175.2,346.5 L175.7,345.5 L176.3,344.5 L176.9,343.5 L177.5,342.6 L178.0,341.8 L178.6,341.0 L179.4,340.0 L180.0,339.3 L180.7,338.5 L181.5,337.6 L182.0,337.0 L183.0,336.0 L183.6,335.5 L184.5,334.7 L185.3,334.0 L186.0,333.4 L187.0,332.6 L187.8,332.0 L188.5,331.5 L189.5,330.8 L190.5,330.1 L191.5,329.5 L192.3,329.0 L193.2,328.5 L194.1,328.0 L195.1,327.5 L196.1,327.0 L197.1,326.5 L198.2,326.0 L199.4,325.5 L200.5,325.1 L201.5,324.7 L202.5,324.3 L203.5,324.0 L204.9,323.5 L206.0,323.2 L207.0,322.9 L208.5,322.5 L209.5,322.3 L210.7,322.0 L212.0,321.7 L213.3,321.5 L214.5,321.3 L216.0,321.1 L217.0,321.0 L218.5,320.8 L220.0,320.7 L221.5,320.6 L222.7,320.5 L224.0,320.5 L225.5,320.4 L227.0,320.4 L228.5,320.5 L229.5,320.5 L231.0,320.6 L232.5,320.7 L234.0,320.9 L235.3,321.0 L236.5,321.1 L238.0,321.4 L239.0,321.5 L240.5,321.8 L241.7,322.0 L243.0,322.3 L244.1,322.5 L245.5,322.8 L246.5,323.1 L248.0,323.4 L249.0,323.7 L250.0,324.0 L251.5,324.5 L252.5,324.8 L253.5,325.1 L254.7,325.5 L256.0,326.0 L257.0,326.3 L258.0,326.7 L259.0,327.1 L260.0,327.5 L261.2,328.0 L262.3,328.5 L263.4,329.0 L264.4,329.5 L265.4,330.0 L266.4,330.5 L267.3,331.0 L268.2,331.5 L269.1,332.0 L270.0,332.6 L271.0,333.2 L272.0,333.9 L272.9,334.5 L273.6,335.0 L274.5,335.7 L275.5,336.5 L276.0,337.0 L277.0,337.9 L277.7,338.5 L278.5,339.4 L279.1,340.0 L279.9,341.0 L280.5,341.7 L281.1,342.5 L281.8,343.5 L282.4,344.5 L282.9,345.5 L283.4,346.5 L283.9,347.5 L284.3,348.5 L284.6,349.5 L285.0,351.0 L285.2,352.0 L285.4,353.5 L285.5,354.5 L285.6,356.0 L285.5,357.5 L285.4,358.5 L285.2,360.0 L285.0,361.3 L284.7,362.5 L284.4,363.5 L284.0,364.8 L283.6,366.0 L283.2,367.0 L282.7,368.0 L282.2,369.0 L281.7,370.0 L281.2,371.0 L280.6,372.0 L280.0,373.0 L279.5,373.8 L279.0,374.6 L278.4,375.5 L277.7,376.5 L277.0,377.5 L276.5,378.2 L275.9,379.0 L275.1,380.0 L274.5,380.8 L273.9,381.5 L273.1,382.5 L272.5,383.3 L271.9,384.0 L271.1,385.0 L270.5,385.7 L269.8,386.5 L269.0,387.4 L268.5,388.0 L267.6,389.0 L267.0,389.6 L266.2,390.5 L265.5,391.2 L264.8,392.0 L264.0,392.8 L263.3,393.5 L262.5,394.2 L261.7,395.0 L261.0,395.6 L260.0,396.5 L259.4,397.0 L258.5,397.7 L257.5,398.4 L256.7,399.0 L256.0,399.5 L255.0,400.2 L254.0,400.8 L253.0,401.4 L252.0,401.9 L251.0,402.4 L250.0,402.9 L249.0,403.3 L248.0,403.8 L247.0,404.2 L246.0,404.5 L244.6,405.0 L243.5,405.3 L242.5,405.6 L241.0,406.0 L240.0,406.2 L238.5,406.5 L237.5,406.7 L236.0,406.9 L235.0,407.0"/><path d="M232.5,395.5 L231.0,395.7 L229.5,395.8 L228.0,395.8 L226.5,395.8 L225.0,395.7 L223.5,395.5 L222.5,395.4 L221.0,395.1 L220.0,394.9 L218.5,394.6 L217.5,394.3 L216.5,394.0 L215.1,393.5 L214.0,393.1 L213.0,392.7 L212.0,392.3 L211.0,391.8 L210.0,391.3 L209.0,390.8 L208.0,390.3 L207.0,389.7 L206.0,389.2 L205.0,388.5 L204.1,388.0 L203.4,387.5 L202.5,386.9 L201.5,386.2 L200.6,385.5 L199.9,385.0 L199.0,384.2 L198.1,383.5 L197.5,383.0 L196.5,382.0 L195.9,381.5 L195.0,380.6 L194.5,380.0 L193.5,379.0 L193.0,378.4 L192.3,377.5 L191.5,376.5 L191.0,375.8 L190.5,375.0 L189.9,374.0 L189.3,373.0 L188.8,372.0 L188.3,371.0 L187.8,370.0 L187.5,369.0 L187.0,367.6 L186.7,366.5 L186.5,365.5 L186.3,364.0 L186.1,362.5 L186.1,361.0 L186.1,359.5 L186.3,358.0 L186.5,356.6 L186.7,355.5 L187.0,354.5 L187.5,353.1 L187.9,352.0 L188.4,351.0 L188.9,350.0 L189.4,349.0 L190.0,348.1 L190.5,347.3 L191.1,346.5 L191.9,345.5 L192.5,344.8 L193.2,344.0 L194.0,343.1 L194.7,342.5 L195.5,341.7 L196.4,341.0 L197.0,340.5 L198.0,339.7 L199.0,339.0 L199.8,338.5 L200.6,338.0 L201.5,337.5 L202.5,336.9 L203.5,336.4 L204.5,335.9 L205.5,335.4 L206.5,335.0 L207.8,334.5 L209.0,334.1 L210.0,333.7 L211.0,333.4 L212.5,333.0 L213.5,332.7 L214.6,332.5 L216.0,332.2 L217.2,332.0 L218.5,331.8 L220.0,331.6 L221.0,331.5 L222.5,331.4 L224.0,331.3 L225.5,331.3 L227.0,331.3 L228.5,331.3 L230.0,331.4 L231.5,331.5 L232.5,331.6 L234.0,331.7 L235.5,331.9 L236.5,332.1 L238.0,332.3 L239.0,332.5 L240.5,332.9 L241.5,333.1 L243.0,333.5 L244.0,333.7 L245.0,334.0 L246.5,334.5 L247.5,334.8 L248.5,335.2 L249.5,335.5 L250.7,336.0 L252.0,336.5 L253.0,336.9 L254.0,337.4 L255.0,337.9 L256.0,338.4 L257.0,338.9 L258.0,339.5 L258.8,340.0 L259.6,340.5 L260.5,341.1 L261.5,341.8 L262.4,342.5 L263.1,343.0 L264.0,343.8 L264.7,344.5 L265.5,345.3 L266.1,346.0 L266.9,347.0 L267.5,347.8 L268.0,348.6 L268.5,349.5 L269.0,350.5 L269.5,351.7 L269.9,353.0 L270.2,354.0 L270.4,355.5 L270.5,357.0 L270.4,358.5 L270.2,360.0 L270.0,361.2 L269.7,362.5 L269.3,363.5 L269.0,364.5 L268.5,365.6 L268.0,366.7 L267.5,367.6 L267.0,368.5 L266.4,369.5 L265.8,370.5 L265.1,371.5 L264.5,372.4 L264.0,373.1 L263.3,374.0 L262.5,375.0 L262.0,375.6 L261.3,376.5 L260.5,377.4 L259.9,378.0 L259.0,379.0 L258.5,379.6 L257.6,380.5 L257.0,381.1 L256.1,382.0 L255.5,382.6 L254.6,383.5 L254.0,384.1 L253.0,385.0 L252.4,385.5 L251.5,386.3 L250.7,387.0 L250.0,387.5 L249.0,388.3 L248.1,389.0 L247.4,389.5 L246.5,390.1 L245.5,390.8 L244.5,391.4 L243.5,391.9 L242.5,392.4 L241.5,392.9 L240.5,393.4 L239.5,393.8 L238.5,394.1 L237.3,394.5 L236.0,394.9 L235.0,395.1 L233.5,395.4 L232.5,395.5"/><path d="M230.5,384.0 L229.0,384.2 L227.5,384.3 L226.0,384.3 L224.5,384.2 L223.0,384.1 L222.0,383.9 L220.5,383.6 L219.5,383.4 L218.1,383.0 L217.0,382.7 L216.0,382.3 L215.0,381.9 L214.0,381.5 L213.0,381.0 L212.0,380.5 L211.0,379.9 L210.0,379.4 L209.0,378.7 L208.0,378.0 L207.3,377.5 L206.5,376.9 L205.5,376.1 L204.9,375.5 L204.0,374.6 L203.4,374.0 L202.5,373.0 L202.0,372.4 L201.4,371.5 L200.7,370.5 L200.1,369.5 L199.6,368.5 L199.1,367.5 L198.8,366.5 L198.4,365.5 L198.1,364.0 L198.0,363.0 L197.8,361.5 L197.9,360.0 L198.0,358.8 L198.2,357.5 L198.5,356.5 L199.0,355.1 L199.5,354.0 L200.0,353.0 L200.5,352.1 L201.0,351.4 L201.6,350.5 L202.5,349.5 L203.0,348.9 L203.9,348.0 L204.5,347.5 L205.5,346.6 L206.4,346.0 L207.1,345.5 L208.0,344.9 L209.0,344.3 L210.0,343.8 L211.0,343.3 L212.0,342.9 L213.0,342.4 L214.2,342.0 L215.5,341.6 L216.5,341.3 L217.8,341.0 L219.0,340.7 L220.4,340.5 L221.5,340.3 L223.0,340.2 L224.5,340.1 L226.0,340.0 L227.5,340.0 L229.0,340.1 L230.5,340.2 L232.0,340.4 L233.1,340.5 L234.5,340.7 L235.9,341.0 L237.0,341.3 L238.0,341.5 L239.5,341.9 L240.5,342.2 L241.5,342.6 L242.7,343.0 L243.9,343.5 L245.0,344.0 L246.0,344.5 L247.0,345.0 L247.9,345.5 L248.7,346.0 L249.5,346.5 L250.5,347.2 L251.5,348.0 L252.1,348.5 L253.0,349.4 L253.6,350.0 L254.4,351.0 L255.0,351.9 L255.5,352.7 L256.0,353.7 L256.5,355.0 L256.8,356.0 L257.0,357.4 L257.1,358.5 L257.0,360.0 L256.9,361.0 L256.5,362.5 L256.2,363.5 L255.8,364.5 L255.4,365.5 L254.8,366.5 L254.3,367.5 L253.6,368.5 L253.0,369.4 L252.5,370.1 L251.8,371.0 L251.0,371.9 L250.4,372.5 L249.5,373.5 L249.0,374.0 L248.0,374.9 L247.4,375.5 L246.5,376.2 L245.6,377.0 L244.9,377.5 L244.0,378.2 L243.0,378.9 L242.0,379.5 L241.2,380.0 L240.4,380.5 L239.4,381.0 L238.4,381.5 L237.4,382.0 L236.1,382.5 L235.0,382.9 L234.0,383.2 L233.0,383.5 L231.5,383.8 L230.5,384.0"/><path d="M229.5,372.1 L228.0,372.3 L226.5,372.4 L225.0,372.4 L223.5,372.3 L222.0,372.0 L221.0,371.7 L220.0,371.4 L218.9,371.0 L217.9,370.5 L217.0,370.0 L216.0,369.4 L215.0,368.6 L214.4,368.0 L213.5,367.0 L213.0,366.4 L212.4,365.5 L212.0,364.5 L211.5,363.1 L211.3,362.0 L211.3,360.5 L211.5,359.1 L211.8,358.0 L212.3,357.0 L212.9,356.0 L213.5,355.2 L214.2,354.5 L215.0,353.8 L216.0,353.0 L216.8,352.5 L217.7,352.0 L218.8,351.5 L220.0,351.0 L221.0,350.7 L222.0,350.5 L223.5,350.2 L225.0,350.0 L226.0,350.0 L227.5,350.0 L228.5,350.0 L230.0,350.2 L231.5,350.5 L232.5,350.8 L233.5,351.1 L234.7,351.5 L235.8,352.0 L236.7,352.5 L237.5,353.0 L238.5,353.7 L239.4,354.5 L240.0,355.2 L240.6,356.0 L241.2,357.0 L241.6,358.0 L241.9,359.5 L241.9,361.0 L241.6,362.5 L241.2,363.5 L240.7,364.5 L240.1,365.5 L239.5,366.3 L238.8,367.0 L238.0,367.8 L237.2,368.5 L236.5,369.0 L235.5,369.7 L234.5,370.3 L233.5,370.8 L232.5,371.2 L231.5,371.5 L230.0,371.9"/></g>
<path d="M313.10,280.00 L318.10,288.66 L308.10,288.66 Z" fill="#EB000A"/>
<path d="M310.70,294.72 L315.20,302.52 L306.20,302.52 Z" fill="#AFAFAF"/>
<path d="M350.00,303.82 L354.50,311.62 L345.50,311.62 Z" fill="#AFAFAF"/>
<path d="M378.80,332.92 L383.30,340.72 L374.30,340.72 Z" fill="#AFAFAF"/>
<path d="M255.90,315.82 L260.40,323.62 L251.40,323.62 Z" fill="#7A7A7A"/>
<path d="M273.60,337.76 L279.60,348.16 L267.60,348.16 Z" fill="#7A7A7A"/>
<path d="M317.50,344.84 L321.50,351.77 L313.50,351.77 Z" fill="#F5B9B9"/>
<path d="M282.40,357.44 L286.40,364.37 L278.40,364.37 Z" fill="#F5B9B9"/>
<path d="M284.40,365.34 L288.40,372.27 L280.40,372.27 Z" fill="#69B969"/>
<path d="M245.60,358.92 L250.10,366.72 L241.10,366.72 Z" fill="#7A7A7A"/>
<path d="M296.50,378.52 L301.00,386.32 L292.00,386.32 Z" fill="#7A7A7A"/>
<path d="M316.00,391.94 L320.00,398.87 L312.00,398.87 Z" fill="#64D7F0"/>
<path d="M242.00,387.65 L248.50,398.90 L235.50,398.90 Z" fill="#AFAFAF"/>
<path d="M171.10,381.94 L175.10,388.87 L167.10,388.87 Z" fill="#F5B9B9"/>
<path d="M157.50,445.42 L162.00,453.22 L153.00,453.22 Z" fill="#AFAFAF"/>
<path d="M226.70,349.72 L231.20,357.52 L222.20,357.52 Z" fill="#7A7A7A"/>
<path d="M219.20,339.13 L226.20,351.25 L212.20,351.25 Z" fill="#69B969"/>
<path d="M220.40,350.46 L226.40,360.86 L214.40,360.86 Z" fill="#69B969"/>
<path d="M227.80,356.62 L232.30,364.42 L223.30,364.42 Z" fill="#EB000A"/>
<path d="M229.50,364.16 L235.50,374.56 L223.50,374.56 Z" fill="#7A7A7A"/>
<path d="M225.50,364.10 L230.50,372.76 L220.50,372.76 Z" fill="#69B969"/>
<path d="M221.00,372.04 L225.00,378.97 L217.00,378.97 Z" fill="#69B969"/>
<path d="M208.30,375.44 L212.30,382.37 L204.30,382.37 Z" fill="#64D7F0"/>
<path d="M211.50,376.04 L215.50,382.97 L207.50,382.97 Z" fill="#64D7F0"/>
<path d="M212.90,380.04 L216.90,386.97 L208.90,386.97 Z" fill="#AFAFAF"/>
<path d="M219.20,379.44 L223.20,386.37 L215.20,386.37 Z" fill="#F5B9B9"/>
<path d="M214.10,388.22 L218.60,396.02 L209.60,396.02 Z" fill="#7A7A7A"/>
<path d="M216.40,394.14 L220.40,401.07 L212.40,401.07 Z" fill="#AFAFAF"/>
<path d="M225.50,398.32 L230.00,406.12 L221.00,406.12 Z" fill="#F5B9B9"/>
<rect x="458.90" y="360.80" width="12.00" height="12.00" fill="#F5B9B9"/>
<rect x="240.00" y="413.40" width="7.00" height="7.00" fill="#AFAFAF"/>
<rect x="239.90" y="440.10" width="7.00" height="7.00" fill="#64D7F0"/>
<rect x="276.70" y="433.70" width="8.00" height="8.00" fill="#7A7A7A"/>
<rect x="246.40" y="457.70" width="10.00" height="10.00" fill="#F5B9B9"/>
<rect x="265.80" y="466.80" width="11.00" height="11.00" fill="#7A7A7A"/>
<rect x="277.00" y="471.00" width="6.00" height="6.00" fill="#AFAFAF"/>
<rect x="269.40" y="509.80" width="12.00" height="12.00" fill="#7A7A7A"/>
<rect x="282.30" y="513.00" width="7.00" height="7.00" fill="#F5B9B9"/>
<rect x="306.30" y="507.40" width="7.00" height="7.00" fill="#F5B9B9"/>
<rect x="310.50" y="498.20" width="7.00" height="7.00" fill="#AFAFAF"/>
<rect x="299.80" y="474.00" width="9.00" height="9.00" fill="#7A7A7A"/>
<rect x="288.95" y="443.75" width="9.50" height="9.50" fill="#69B969"/>
<rect x="299.35" y="450.45" width="6.50" height="6.50" fill="#AFAFAF"/>
<rect x="286.70" y="453.20" width="10.00" height="10.00" fill="#F5B9B9"/>
<rect x="306.40" y="447.00" width="12.00" height="12.00" fill="#7A7A7A"/>
<rect x="309.50" y="450.40" width="8.00" height="8.00" fill="#F5B9B9"/>
<rect x="321.40" y="438.10" width="9.00" height="9.00" fill="#F5B9B9"/>
<rect x="329.70" y="454.30" width="7.00" height="7.00" fill="#AFAFAF"/>
<rect x="341.40" y="450.80" width="8.00" height="8.00" fill="#F5B9B9"/>
<rect x="311.50" y="461.50" width="9.00" height="9.00" fill="#F5B9B9"/>
<rect x="295.00" y="461.50" width="10.00" height="10.00" fill="#69B969"/>
<rect x="299.50" y="468.50" width="10.00" height="10.00" fill="#69B969"/>
<rect x="294.00" y="466.50" width="7.00" height="7.00" fill="#69B969"/>
<rect x="289.15" y="469.45" width="9.50" height="9.50" fill="#EB000A"/>
<rect x="290.10" y="471.00" width="8.00" height="8.00" fill="#F5B9B9"/>
<rect x="302.90" y="458.50" width="6.00" height="6.00" fill="#64D7F0"/>
<rect x="423.50" y="414.00" width="9.00" height="9.00" fill="#7A7A7A"/>
<rect x="428.00" y="412.50" width="13.00" height="13.00" fill="#F5B9B9"/>
<rect x="432.00" y="417.50" width="13.00" height="13.00" fill="#F5B9B9"/>
<rect x="409.20" y="429.80" width="11.00" height="11.00" fill="#F5B9B9"/>
<rect x="394.90" y="441.00" width="8.00" height="8.00" fill="#F5B9B9"/>
<rect x="395.30" y="448.80" width="12.00" height="12.00" fill="#F5B9B9"/>
<rect x="406.80" y="454.20" width="7.00" height="7.00" fill="#7A7A7A"/>
<rect x="420.90" y="457.80" width="12.00" height="12.00" fill="#7A7A7A"/>
<rect x="384.00" y="457.00" width="8.00" height="8.00" fill="#7A7A7A"/>
<rect x="382.70" y="463.00" width="8.00" height="8.00" fill="#EB000A"/>
<rect x="400.40" y="460.00" width="14.00" height="14.00" fill="#F5B9B9"/>
<rect x="411.00" y="460.00" width="12.00" height="12.00" fill="#F5B9B9"/>
<rect x="384.40" y="469.00" width="8.00" height="8.00" fill="#7A7A7A"/>
<rect x="392.50" y="469.00" width="8.00" height="8.00" fill="#EB000A"/>
<rect x="356.40" y="458.10" width="8.00" height="8.00" fill="#64D7F0"/>
<rect x="366.40" y="461.30" width="8.00" height="8.00" fill="#F5B9B9"/>
<rect x="360.00" y="468.10" width="11.00" height="11.00" fill="#EB000A"/>
<rect x="371.80" y="475.20" width="8.00" height="8.00" fill="#F5B9B9"/>
<rect x="380.30" y="477.60" width="8.00" height="8.00" fill="#64D7F0"/>
<rect x="354.90" y="480.20" width="10.00" height="10.00" fill="#F5B9B9"/>
<rect x="381.50" y="492.70" width="8.00" height="8.00" fill="#EB000A"/>
<rect x="390.50" y="492.20" width="7.00" height="7.00" fill="#AFAFAF"/>
<rect x="382.50" y="512.20" width="7.00" height="7.00" fill="#F5B9B9"/>
<rect x="416.10" y="518.30" width="7.00" height="7.00" fill="#F5B9B9"/>
<rect x="328.10" y="515.00" width="10.00" height="10.00" fill="#F5B9B9"/>
<rect x="322.60" y="439.40" width="8.00" height="8.00" fill="#F5B9B9"/>
<rect x="340.10" y="450.80" width="8.00" height="8.00" fill="#F5B9B9"/>
<rect x="330.10" y="454.20" width="7.00" height="7.00" fill="#AFAFAF"/>
<rect x="312.60" y="462.30" width="7.00" height="7.00" fill="#F5B9B9"/>
<circle cx="201.50" cy="480.00" r="3.00" fill="#64D7F0"/>
<circle cx="194.90" cy="489.60" r="3.50" fill="#F5B9B9"/>
<circle cx="212.80" cy="497.20" r="6.25" fill="#64D7F0"/>
<circle cx="231.40" cy="496.50" r="3.50" fill="#F5B9B9"/>
<circle cx="235.10" cy="506.80" r="6.50" fill="#64D7F0"/>
<circle cx="235.90" cy="519.50" r="6.50" fill="#64D7F0"/>
<circle cx="245.60" cy="521.50" r="4.00" fill="#F5B9B9"/>
<circle cx="278.30" cy="540.60" r="5.00" fill="#AFAFAF"/>
<circle cx="326.50" cy="549.30" r="5.00" fill="#AFAFAF"/>
<circle cx="337.10" cy="574.70" r="3.50" fill="#7A7A7A"/>
<circle cx="369.70" cy="537.10" r="3.50" fill="#EB000A"/>
<g stroke="#A6A6A6" stroke-width="0.7" fill="none">
<line x1="309.70" y1="454.40" x2="219.50" y2="279.60"/>
<line x1="309.70" y1="454.40" x2="215.40" y2="287.10"/>
<line x1="309.70" y1="454.40" x2="232.30" y2="331.10"/>
<line x1="309.70" y1="454.40" x2="421.30" y2="297.30"/>
<line x1="309.70" y1="454.40" x2="280.10" y2="426.70"/>
<line x1="309.70" y1="454.40" x2="459.40" y2="418.40"/>
<line x1="309.70" y1="454.40" x2="537.20" y2="443.60"/>
<line x1="309.70" y1="454.40" x2="492.60" y2="470.20"/>
<line x1="309.70" y1="454.40" x2="65.60" y2="471.80"/>
<line x1="309.70" y1="454.40" x2="77.80" y2="484.00"/>
<line x1="309.70" y1="454.40" x2="224.00" y2="518.00"/>
<line x1="309.70" y1="454.40" x2="246.00" y2="530.00"/>
<line x1="309.70" y1="454.40" x2="257.00" y2="596.50"/>
<line x1="309.70" y1="454.40" x2="335.40" y2="607.00"/>
<line x1="309.70" y1="454.40" x2="327.50" y2="636.00"/>
</g>
<text x="187.60" y="276.30" font-size="12.3" font-style="italic" fill="#111" stroke="#111" stroke-width="0.15">LPxTG_4</text>
<text x="195.00" y="287.10" font-size="12.3" font-style="italic" fill="#111" stroke="#111" stroke-width="0.15">adh</text>
<text x="182.90" y="328.40" font-size="12.3" font-style="italic" fill="#111" stroke="#111" stroke-width="0.15">LPxTG_3</text>
<text x="399.00" y="292.80" font-size="12.3" font-style="italic" fill="#111" stroke="#111" stroke-width="0.15">LPxTG_1</text>
<text x="251.40" y="423.40" font-size="12.3" font-style="italic" fill="#111" stroke="#111" stroke-width="0.15">LPxTG_2</text>
<text x="464.20" y="420.50" font-size="12.3" font-style="italic" fill="#111" stroke="#111" stroke-width="0.15">sp_COG4713</text>
<text x="541.00" y="446.50" font-size="12.3" font-style="italic" fill="#111" stroke="#111" stroke-width="0.15">bsh1</text>
<text x="497.90" y="473.00" font-size="12.3" font-style="italic" fill="#111" stroke="#111" stroke-width="0.15">sp_CnaB</text>
<text x="45.00" y="476.30" font-size="12.3" font-style="italic" fill="#111" stroke="#111" stroke-width="0.15">srt3</text>
<text x="45.00" y="491.30" font-size="12.3" font-style="italic" fill="#111" stroke="#111" stroke-width="0.15">WxLsp</text>
<text x="191.20" y="520.20" font-size="12.3" font-style="italic" fill="#111" stroke="#111" stroke-width="0.15">CnaB1</text>
<text x="205.30" y="535.10" font-size="12.3" font-style="italic" fill="#111" stroke="#111" stroke-width="0.15">MucAd1</text>
<text x="243.80" y="608.80" font-size="12.3" font-style="italic" fill="#111" stroke="#111" stroke-width="0.15">pilsAg</text>
<text x="335.40" y="615.30" font-size="12.3" font-style="italic" fill="#111" stroke="#111" stroke-width="0.15">inl</text>
<text x="314.30" y="644.90" font-size="12.3" font-style="italic" fill="#111" stroke="#111" stroke-width="0.15">MucAd2</text>
<rect x="41.5" y="261.3" width="526.0" height="398.0" fill="none" stroke="#7F7F7F" stroke-width="1"/>
<g stroke="#444" stroke-width="0.8">
<line x1="39.0" y1="646.10" x2="41.5" y2="646.10"/>
<line x1="39.0" y1="548.90" x2="41.5" y2="548.90"/>
<line x1="39.0" y1="451.70" x2="41.5" y2="451.70"/>
<line x1="39.0" y1="354.50" x2="41.5" y2="354.50"/>
<line x1="166.00" y1="659.3" x2="166.00" y2="661.8"/>
<line x1="309.70" y1="659.3" x2="309.70" y2="661.8"/>
<line x1="453.40" y1="659.3" x2="453.40" y2="661.8"/>
</g>
<text x="37.6" y="650.30" font-size="12.7" text-anchor="end" fill="#333">−0.8</text>
<text x="37.6" y="553.10" font-size="12.7" text-anchor="end" fill="#333">−0.4</text>
<text x="37.6" y="455.90" font-size="12.7" text-anchor="end" fill="#333">0.0</text>
<text x="37.6" y="358.70" font-size="12.7" text-anchor="end" fill="#333">0.4</text>
<text transform="translate(166.00,664.0) rotate(-45)" x="0" y="8.4" font-size="12.7" text-anchor="end" fill="#333">−0.5</text>
<text transform="translate(309.70,664.0) rotate(-45)" x="0" y="8.4" font-size="12.7" text-anchor="end" fill="#333">0.0</text>
<text transform="translate(453.40,664.0) rotate(-45)" x="0" y="8.4" font-size="12.7" text-anchor="end" fill="#333">0.5</text>
<text x="272.9" y="695.6" font-size="14.5" font-weight="bold" textLength="111" lengthAdjust="spacingAndGlyphs">NMDS1 (43.2%)</text>
<text transform="translate(14.9,495) rotate(-90)" font-size="14.2" font-weight="bold" textLength="103" lengthAdjust="spacingAndGlyphs">NMDS2 (34.3%)</text>
<text x="585.2" y="279.8" font-size="14.3" font-weight="bold" stroke="#000" stroke-width="0.25">Species</text>
<circle cx="596.4" cy="298.9" r="4" fill="#000"/>
<path d="M596.4,315.3 L601.9,324.8 L590.9,324.8 Z" fill="#000"/>
<rect x="592.2" y="339.8" width="8.4" height="8.4" fill="#000"/>
<text x="613.8" y="302.8" font-size="12.5" font-weight="bold" font-style="italic" stroke="#000" stroke-width="0.25">L.formosensis</text>
<text x="613.8" y="324.5" font-size="12.5" font-weight="bold" font-style="italic" stroke="#000" stroke-width="0.25">L.garvieae</text>
<text x="613.8" y="347.8" font-size="12.5" font-weight="bold" font-style="italic" stroke="#000" stroke-width="0.25">L.petauri</text>
<text x="585.2" y="382.3" font-size="14.3" font-weight="bold" stroke="#000" stroke-width="0.25">log2(count)+1</text>
<line x1="587.2" y1="401.7" x2="605.8" y2="401.7" stroke="#BDBDBD" stroke-width="0.8"/>
<circle cx="596.4" cy="401.7" r="3.25" fill="#000"/>
<text x="614.4" y="406.0" font-size="12.5" font-weight="bold" stroke="#000" stroke-width="0.25">1</text>
<line x1="587.2" y1="424.2" x2="605.8" y2="424.2" stroke="#BDBDBD" stroke-width="0.8"/>
<circle cx="596.4" cy="424.2" r="5.00" fill="#000"/>
<text x="614.4" y="428.5" font-size="12.5" font-weight="bold" stroke="#000" stroke-width="0.25">2</text>
<line x1="587.2" y1="446.3" x2="605.8" y2="446.3" stroke="#BDBDBD" stroke-width="0.8"/>
<circle cx="596.4" cy="446.3" r="6.00" fill="#000"/>
<text x="614.4" y="450.6" font-size="12.5" font-weight="bold" stroke="#000" stroke-width="0.25">3</text>
<line x1="587.2" y1="468.8" x2="605.8" y2="468.8" stroke="#BDBDBD" stroke-width="0.8"/>
<circle cx="596.4" cy="468.8" r="6.75" fill="#000"/>
<text x="614.4" y="473.1" font-size="12.5" font-weight="bold" stroke="#000" stroke-width="0.25">4</text>
<line x1="587.2" y1="491.5" x2="605.8" y2="491.5" stroke="#BDBDBD" stroke-width="0.8"/>
<circle cx="596.4" cy="491.5" r="7.50" fill="#000"/>
<text x="614.4" y="495.8" font-size="12.5" font-weight="bold" stroke="#000" stroke-width="0.25">5</text>
<text x="585.2" y="530.7" font-size="14.3" font-weight="bold" stroke="#000" stroke-width="0.25">Source</text>
<circle cx="596.4" cy="549.4" r="4.4" fill="#64D7F0"/>
<text x="614.6" y="553.7" font-size="12.5" font-weight="bold" stroke="#000" stroke-width="0.25">Bovines</text>
<circle cx="596.4" cy="572.0" r="4.4" fill="#F5B9B9"/>
<text x="614.6" y="576.3" font-size="12.5" font-weight="bold" stroke="#000" stroke-width="0.25">Human feces</text>
<circle cx="596.4" cy="594.5" r="4.4" fill="#EB000A"/>
<text x="614.6" y="598.8" font-size="12.5" font-weight="bold" stroke="#000" stroke-width="0.25">Human infection</text>
<circle cx="596.4" cy="617.0" r="4.4" fill="#AFAFAF"/>
<text x="614.6" y="621.3" font-size="12.5" font-weight="bold" stroke="#000" stroke-width="0.25">Others</text>
<circle cx="596.4" cy="639.7" r="4.4" fill="#69B969"/>
<text x="614.6" y="644.0" font-size="12.5" font-weight="bold" stroke="#000" stroke-width="0.25">Rainbow trout</text></svg></body></html>
